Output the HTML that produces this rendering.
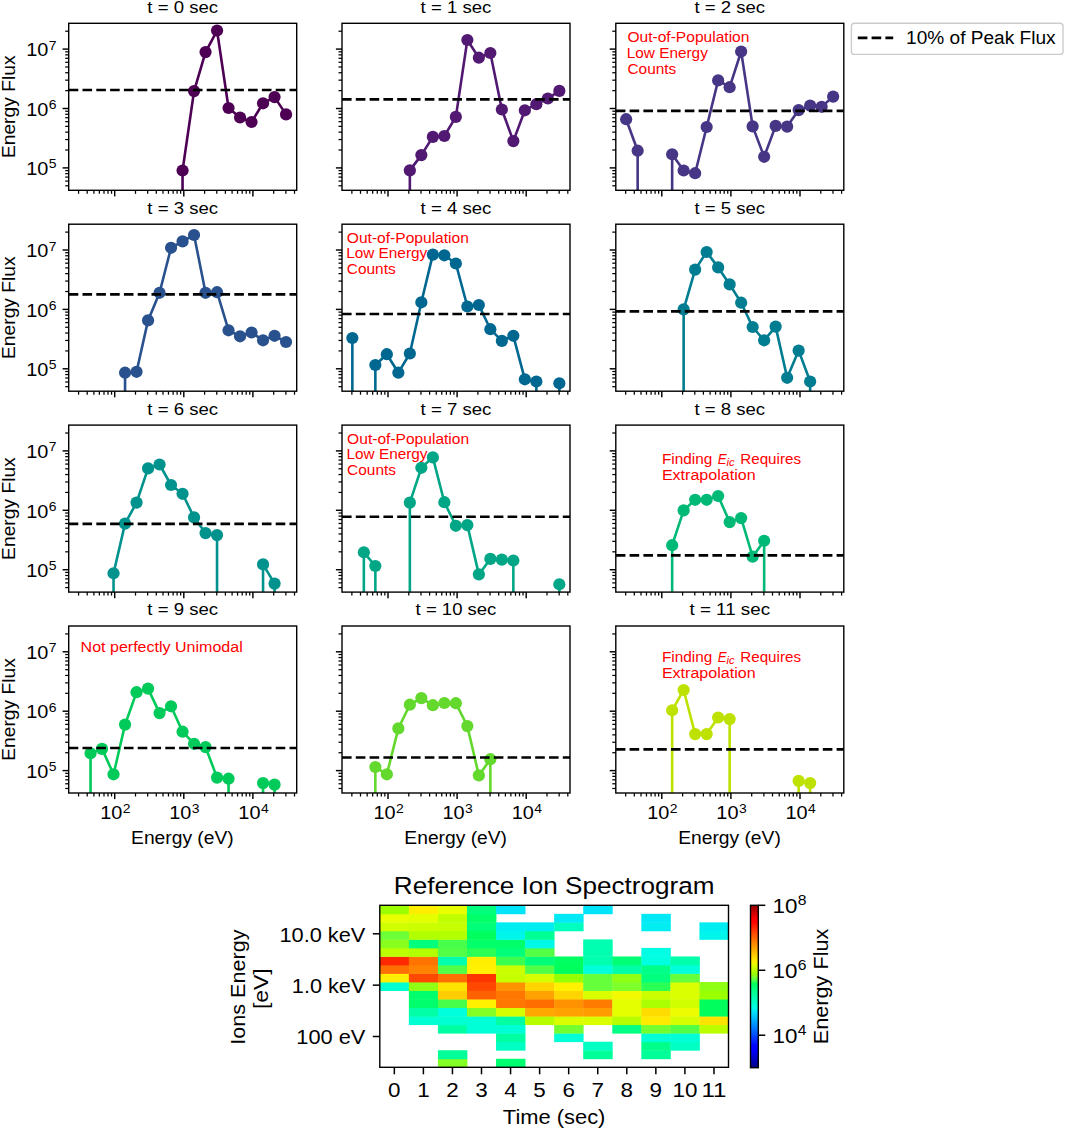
<!DOCTYPE html>
<html><head><meta charset="utf-8"><title>Energy Flux Spectra</title>
<style>html,body{margin:0;padding:0;background:#fff;}svg{display:block;}text{font-family:"Liberation Sans",sans-serif;}</style>
</head><body>
<svg width="1065" height="1128" viewBox="0 0 1065 1128" font-family='"Liberation Sans", sans-serif'>
<rect x="0" y="0" width="1065" height="1128" fill="#fff"/>
<clipPath id="clip0"><rect x="68.70" y="23.30" width="228.00" height="167.00"/></clipPath>
<g clip-path="url(#clip0)" stroke="#4e0055" stroke-width="2.6" fill="none" stroke-linejoin="round" stroke-linecap="butt"><polyline points="182.55,170.50 194.05,91.10 205.55,52.10 217.05,30.55 228.55,108.00 240.05,117.50 251.55,122.00 263.05,103.30 274.55,97.10 286.05,114.40"/><line x1="182.55" y1="170.50" x2="182.55" y2="195.30"/></g>
<g fill="#4e0055" clip-path="url(#clip0)"><circle cx="182.55" cy="170.50" r="6.1"/><circle cx="194.05" cy="91.10" r="6.1"/><circle cx="205.55" cy="52.10" r="6.1"/><circle cx="217.05" cy="30.55" r="6.1"/><circle cx="228.55" cy="108.00" r="6.1"/><circle cx="240.05" cy="117.50" r="6.1"/><circle cx="251.55" cy="122.00" r="6.1"/><circle cx="263.05" cy="103.30" r="6.1"/><circle cx="274.55" cy="97.10" r="6.1"/><circle cx="286.05" cy="114.40" r="6.1"/></g>
<line x1="68.70" y1="89.95" x2="296.70" y2="89.95" stroke="#000" stroke-width="2.6" stroke-dasharray="9.6 4.2" clip-path="url(#clip0)"/>
<rect x="68.70" y="23.30" width="228.00" height="167.00" fill="none" stroke="#000" stroke-width="1.4"/>
<g stroke="#000"><line x1="78.57" y1="190.30" x2="78.57" y2="193.80" stroke-width="1.25"/><line x1="87.20" y1="190.30" x2="87.20" y2="193.80" stroke-width="1.25"/><line x1="93.90" y1="190.30" x2="93.90" y2="193.80" stroke-width="1.25"/><line x1="99.37" y1="190.30" x2="99.37" y2="193.80" stroke-width="1.25"/><line x1="104.00" y1="190.30" x2="104.00" y2="193.80" stroke-width="1.25"/><line x1="108.00" y1="190.30" x2="108.00" y2="193.80" stroke-width="1.25"/><line x1="111.54" y1="190.30" x2="111.54" y2="193.80" stroke-width="1.25"/><line x1="114.70" y1="190.30" x2="114.70" y2="196.40" stroke-width="1.45"/><line x1="135.50" y1="190.30" x2="135.50" y2="193.80" stroke-width="1.25"/><line x1="147.67" y1="190.30" x2="147.67" y2="193.80" stroke-width="1.25"/><line x1="156.30" y1="190.30" x2="156.30" y2="193.80" stroke-width="1.25"/><line x1="163.00" y1="190.30" x2="163.00" y2="193.80" stroke-width="1.25"/><line x1="168.47" y1="190.30" x2="168.47" y2="193.80" stroke-width="1.25"/><line x1="173.10" y1="190.30" x2="173.10" y2="193.80" stroke-width="1.25"/><line x1="177.10" y1="190.30" x2="177.10" y2="193.80" stroke-width="1.25"/><line x1="180.64" y1="190.30" x2="180.64" y2="193.80" stroke-width="1.25"/><line x1="183.80" y1="190.30" x2="183.80" y2="196.40" stroke-width="1.45"/><line x1="204.60" y1="190.30" x2="204.60" y2="193.80" stroke-width="1.25"/><line x1="216.77" y1="190.30" x2="216.77" y2="193.80" stroke-width="1.25"/><line x1="225.40" y1="190.30" x2="225.40" y2="193.80" stroke-width="1.25"/><line x1="232.10" y1="190.30" x2="232.10" y2="193.80" stroke-width="1.25"/><line x1="237.57" y1="190.30" x2="237.57" y2="193.80" stroke-width="1.25"/><line x1="242.20" y1="190.30" x2="242.20" y2="193.80" stroke-width="1.25"/><line x1="246.20" y1="190.30" x2="246.20" y2="193.80" stroke-width="1.25"/><line x1="249.74" y1="190.30" x2="249.74" y2="193.80" stroke-width="1.25"/><line x1="252.90" y1="190.30" x2="252.90" y2="196.40" stroke-width="1.45"/><line x1="273.70" y1="190.30" x2="273.70" y2="193.80" stroke-width="1.25"/><line x1="285.87" y1="190.30" x2="285.87" y2="193.80" stroke-width="1.25"/><line x1="294.50" y1="190.30" x2="294.50" y2="193.80" stroke-width="1.25"/><line x1="68.70" y1="185.78" x2="65.20" y2="185.78" stroke-width="1.25"/><line x1="68.70" y1="181.08" x2="65.20" y2="181.08" stroke-width="1.25"/><line x1="68.70" y1="177.10" x2="65.20" y2="177.10" stroke-width="1.25"/><line x1="68.70" y1="173.66" x2="65.20" y2="173.66" stroke-width="1.25"/><line x1="68.70" y1="170.62" x2="65.20" y2="170.62" stroke-width="1.25"/><line x1="68.70" y1="167.90" x2="62.60" y2="167.90" stroke-width="1.45"/><line x1="68.70" y1="150.02" x2="65.20" y2="150.02" stroke-width="1.25"/><line x1="68.70" y1="139.56" x2="65.20" y2="139.56" stroke-width="1.25"/><line x1="68.70" y1="132.14" x2="65.20" y2="132.14" stroke-width="1.25"/><line x1="68.70" y1="126.38" x2="65.20" y2="126.38" stroke-width="1.25"/><line x1="68.70" y1="121.68" x2="65.20" y2="121.68" stroke-width="1.25"/><line x1="68.70" y1="117.70" x2="65.20" y2="117.70" stroke-width="1.25"/><line x1="68.70" y1="114.26" x2="65.20" y2="114.26" stroke-width="1.25"/><line x1="68.70" y1="111.22" x2="65.20" y2="111.22" stroke-width="1.25"/><line x1="68.70" y1="108.50" x2="62.60" y2="108.50" stroke-width="1.45"/><line x1="68.70" y1="90.62" x2="65.20" y2="90.62" stroke-width="1.25"/><line x1="68.70" y1="80.16" x2="65.20" y2="80.16" stroke-width="1.25"/><line x1="68.70" y1="72.74" x2="65.20" y2="72.74" stroke-width="1.25"/><line x1="68.70" y1="66.98" x2="65.20" y2="66.98" stroke-width="1.25"/><line x1="68.70" y1="62.28" x2="65.20" y2="62.28" stroke-width="1.25"/><line x1="68.70" y1="58.30" x2="65.20" y2="58.30" stroke-width="1.25"/><line x1="68.70" y1="54.86" x2="65.20" y2="54.86" stroke-width="1.25"/><line x1="68.70" y1="51.82" x2="65.20" y2="51.82" stroke-width="1.25"/><line x1="68.70" y1="49.10" x2="62.60" y2="49.10" stroke-width="1.45"/><line x1="68.70" y1="31.22" x2="65.20" y2="31.22" stroke-width="1.25"/></g>
<text x="147.33" y="12.70" font-size="16.41" textLength="70.74" lengthAdjust="spacingAndGlyphs" fill="#000">t = 0 sec</text>
<text x="26.21" y="175.10" font-size="18.18" textLength="22.14" lengthAdjust="spacingAndGlyphs" fill="#000">10</text>
<text x="48.75" y="168.49" font-size="12.73" textLength="7.75" lengthAdjust="spacingAndGlyphs" fill="#000">5</text>
<text x="26.21" y="115.70" font-size="18.18" textLength="22.14" lengthAdjust="spacingAndGlyphs" fill="#000">10</text>
<text x="48.75" y="109.09" font-size="12.73" textLength="7.75" lengthAdjust="spacingAndGlyphs" fill="#000">6</text>
<text x="26.21" y="56.30" font-size="18.18" textLength="22.14" lengthAdjust="spacingAndGlyphs" fill="#000">10</text>
<text x="48.75" y="49.69" font-size="12.73" textLength="7.75" lengthAdjust="spacingAndGlyphs" fill="#000">7</text>
<text transform="translate(15.40,106.80) rotate(-90)" x="-51.31" y="0" font-size="18.18" textLength="102.62" lengthAdjust="spacingAndGlyphs" fill="#000">Energy Flux</text>
<clipPath id="clip1"><rect x="342.00" y="23.30" width="228.00" height="167.00"/></clipPath>
<g clip-path="url(#clip1)" stroke="#521973" stroke-width="2.6" fill="none" stroke-linejoin="round" stroke-linecap="butt"><polyline points="409.85,170.40 421.35,155.10 432.85,136.90 444.35,136.00 455.85,116.90 467.35,40.00 478.85,57.70 490.35,53.00 501.85,109.50 513.35,141.10 524.85,110.30 536.35,104.20 547.85,98.50 559.35,90.90"/><line x1="409.85" y1="170.40" x2="409.85" y2="195.30"/></g>
<g fill="#521973" clip-path="url(#clip1)"><circle cx="409.85" cy="170.40" r="6.1"/><circle cx="421.35" cy="155.10" r="6.1"/><circle cx="432.85" cy="136.90" r="6.1"/><circle cx="444.35" cy="136.00" r="6.1"/><circle cx="455.85" cy="116.90" r="6.1"/><circle cx="467.35" cy="40.00" r="6.1"/><circle cx="478.85" cy="57.70" r="6.1"/><circle cx="490.35" cy="53.00" r="6.1"/><circle cx="501.85" cy="109.50" r="6.1"/><circle cx="513.35" cy="141.10" r="6.1"/><circle cx="524.85" cy="110.30" r="6.1"/><circle cx="536.35" cy="104.20" r="6.1"/><circle cx="547.85" cy="98.50" r="6.1"/><circle cx="559.35" cy="90.90" r="6.1"/></g>
<line x1="342.00" y1="99.40" x2="570.00" y2="99.40" stroke="#000" stroke-width="2.6" stroke-dasharray="9.6 4.2" clip-path="url(#clip1)"/>
<rect x="342.00" y="23.30" width="228.00" height="167.00" fill="none" stroke="#000" stroke-width="1.4"/>
<g stroke="#000"><line x1="351.87" y1="190.30" x2="351.87" y2="193.80" stroke-width="1.25"/><line x1="360.50" y1="190.30" x2="360.50" y2="193.80" stroke-width="1.25"/><line x1="367.20" y1="190.30" x2="367.20" y2="193.80" stroke-width="1.25"/><line x1="372.67" y1="190.30" x2="372.67" y2="193.80" stroke-width="1.25"/><line x1="377.30" y1="190.30" x2="377.30" y2="193.80" stroke-width="1.25"/><line x1="381.30" y1="190.30" x2="381.30" y2="193.80" stroke-width="1.25"/><line x1="384.84" y1="190.30" x2="384.84" y2="193.80" stroke-width="1.25"/><line x1="388.00" y1="190.30" x2="388.00" y2="196.40" stroke-width="1.45"/><line x1="408.80" y1="190.30" x2="408.80" y2="193.80" stroke-width="1.25"/><line x1="420.97" y1="190.30" x2="420.97" y2="193.80" stroke-width="1.25"/><line x1="429.60" y1="190.30" x2="429.60" y2="193.80" stroke-width="1.25"/><line x1="436.30" y1="190.30" x2="436.30" y2="193.80" stroke-width="1.25"/><line x1="441.77" y1="190.30" x2="441.77" y2="193.80" stroke-width="1.25"/><line x1="446.40" y1="190.30" x2="446.40" y2="193.80" stroke-width="1.25"/><line x1="450.40" y1="190.30" x2="450.40" y2="193.80" stroke-width="1.25"/><line x1="453.94" y1="190.30" x2="453.94" y2="193.80" stroke-width="1.25"/><line x1="457.10" y1="190.30" x2="457.10" y2="196.40" stroke-width="1.45"/><line x1="477.90" y1="190.30" x2="477.90" y2="193.80" stroke-width="1.25"/><line x1="490.07" y1="190.30" x2="490.07" y2="193.80" stroke-width="1.25"/><line x1="498.70" y1="190.30" x2="498.70" y2="193.80" stroke-width="1.25"/><line x1="505.40" y1="190.30" x2="505.40" y2="193.80" stroke-width="1.25"/><line x1="510.87" y1="190.30" x2="510.87" y2="193.80" stroke-width="1.25"/><line x1="515.50" y1="190.30" x2="515.50" y2="193.80" stroke-width="1.25"/><line x1="519.50" y1="190.30" x2="519.50" y2="193.80" stroke-width="1.25"/><line x1="523.04" y1="190.30" x2="523.04" y2="193.80" stroke-width="1.25"/><line x1="526.20" y1="190.30" x2="526.20" y2="196.40" stroke-width="1.45"/><line x1="547.00" y1="190.30" x2="547.00" y2="193.80" stroke-width="1.25"/><line x1="559.17" y1="190.30" x2="559.17" y2="193.80" stroke-width="1.25"/><line x1="567.80" y1="190.30" x2="567.80" y2="193.80" stroke-width="1.25"/><line x1="342.00" y1="185.78" x2="338.50" y2="185.78" stroke-width="1.25"/><line x1="342.00" y1="181.08" x2="338.50" y2="181.08" stroke-width="1.25"/><line x1="342.00" y1="177.10" x2="338.50" y2="177.10" stroke-width="1.25"/><line x1="342.00" y1="173.66" x2="338.50" y2="173.66" stroke-width="1.25"/><line x1="342.00" y1="170.62" x2="338.50" y2="170.62" stroke-width="1.25"/><line x1="342.00" y1="167.90" x2="335.90" y2="167.90" stroke-width="1.45"/><line x1="342.00" y1="150.02" x2="338.50" y2="150.02" stroke-width="1.25"/><line x1="342.00" y1="139.56" x2="338.50" y2="139.56" stroke-width="1.25"/><line x1="342.00" y1="132.14" x2="338.50" y2="132.14" stroke-width="1.25"/><line x1="342.00" y1="126.38" x2="338.50" y2="126.38" stroke-width="1.25"/><line x1="342.00" y1="121.68" x2="338.50" y2="121.68" stroke-width="1.25"/><line x1="342.00" y1="117.70" x2="338.50" y2="117.70" stroke-width="1.25"/><line x1="342.00" y1="114.26" x2="338.50" y2="114.26" stroke-width="1.25"/><line x1="342.00" y1="111.22" x2="338.50" y2="111.22" stroke-width="1.25"/><line x1="342.00" y1="108.50" x2="335.90" y2="108.50" stroke-width="1.45"/><line x1="342.00" y1="90.62" x2="338.50" y2="90.62" stroke-width="1.25"/><line x1="342.00" y1="80.16" x2="338.50" y2="80.16" stroke-width="1.25"/><line x1="342.00" y1="72.74" x2="338.50" y2="72.74" stroke-width="1.25"/><line x1="342.00" y1="66.98" x2="338.50" y2="66.98" stroke-width="1.25"/><line x1="342.00" y1="62.28" x2="338.50" y2="62.28" stroke-width="1.25"/><line x1="342.00" y1="58.30" x2="338.50" y2="58.30" stroke-width="1.25"/><line x1="342.00" y1="54.86" x2="338.50" y2="54.86" stroke-width="1.25"/><line x1="342.00" y1="51.82" x2="338.50" y2="51.82" stroke-width="1.25"/><line x1="342.00" y1="49.10" x2="335.90" y2="49.10" stroke-width="1.45"/><line x1="342.00" y1="31.22" x2="338.50" y2="31.22" stroke-width="1.25"/></g>
<text x="420.63" y="12.70" font-size="16.41" textLength="70.74" lengthAdjust="spacingAndGlyphs" fill="#000">t = 1 sec</text>
<clipPath id="clip2"><rect x="615.80" y="23.30" width="228.00" height="167.00"/></clipPath>
<g clip-path="url(#clip2)" stroke="#473686" stroke-width="2.6" fill="none" stroke-linejoin="round" stroke-linecap="butt"><polyline points="626.15,119.20 637.65,150.70"/><polyline points="672.15,154.30 683.65,170.50 695.15,173.20 706.65,127.00 718.15,80.40 729.65,87.20 741.15,51.50 752.65,126.40 764.15,156.80 775.65,125.90 787.15,126.60 798.65,110.10 810.15,105.60 821.65,106.80 833.15,96.60"/><line x1="637.65" y1="150.70" x2="637.65" y2="195.30"/><line x1="672.15" y1="154.30" x2="672.15" y2="195.30"/></g>
<g fill="#473686" clip-path="url(#clip2)"><circle cx="626.15" cy="119.20" r="6.1"/><circle cx="637.65" cy="150.70" r="6.1"/><circle cx="672.15" cy="154.30" r="6.1"/><circle cx="683.65" cy="170.50" r="6.1"/><circle cx="695.15" cy="173.20" r="6.1"/><circle cx="706.65" cy="127.00" r="6.1"/><circle cx="718.15" cy="80.40" r="6.1"/><circle cx="729.65" cy="87.20" r="6.1"/><circle cx="741.15" cy="51.50" r="6.1"/><circle cx="752.65" cy="126.40" r="6.1"/><circle cx="764.15" cy="156.80" r="6.1"/><circle cx="775.65" cy="125.90" r="6.1"/><circle cx="787.15" cy="126.60" r="6.1"/><circle cx="798.65" cy="110.10" r="6.1"/><circle cx="810.15" cy="105.60" r="6.1"/><circle cx="821.65" cy="106.80" r="6.1"/><circle cx="833.15" cy="96.60" r="6.1"/></g>
<line x1="615.80" y1="110.90" x2="843.80" y2="110.90" stroke="#000" stroke-width="2.6" stroke-dasharray="9.6 4.2" clip-path="url(#clip2)"/>
<rect x="615.80" y="23.30" width="228.00" height="167.00" fill="none" stroke="#000" stroke-width="1.4"/>
<g stroke="#000"><line x1="625.67" y1="190.30" x2="625.67" y2="193.80" stroke-width="1.25"/><line x1="634.30" y1="190.30" x2="634.30" y2="193.80" stroke-width="1.25"/><line x1="641.00" y1="190.30" x2="641.00" y2="193.80" stroke-width="1.25"/><line x1="646.47" y1="190.30" x2="646.47" y2="193.80" stroke-width="1.25"/><line x1="651.10" y1="190.30" x2="651.10" y2="193.80" stroke-width="1.25"/><line x1="655.10" y1="190.30" x2="655.10" y2="193.80" stroke-width="1.25"/><line x1="658.64" y1="190.30" x2="658.64" y2="193.80" stroke-width="1.25"/><line x1="661.80" y1="190.30" x2="661.80" y2="196.40" stroke-width="1.45"/><line x1="682.60" y1="190.30" x2="682.60" y2="193.80" stroke-width="1.25"/><line x1="694.77" y1="190.30" x2="694.77" y2="193.80" stroke-width="1.25"/><line x1="703.40" y1="190.30" x2="703.40" y2="193.80" stroke-width="1.25"/><line x1="710.10" y1="190.30" x2="710.10" y2="193.80" stroke-width="1.25"/><line x1="715.57" y1="190.30" x2="715.57" y2="193.80" stroke-width="1.25"/><line x1="720.20" y1="190.30" x2="720.20" y2="193.80" stroke-width="1.25"/><line x1="724.20" y1="190.30" x2="724.20" y2="193.80" stroke-width="1.25"/><line x1="727.74" y1="190.30" x2="727.74" y2="193.80" stroke-width="1.25"/><line x1="730.90" y1="190.30" x2="730.90" y2="196.40" stroke-width="1.45"/><line x1="751.70" y1="190.30" x2="751.70" y2="193.80" stroke-width="1.25"/><line x1="763.87" y1="190.30" x2="763.87" y2="193.80" stroke-width="1.25"/><line x1="772.50" y1="190.30" x2="772.50" y2="193.80" stroke-width="1.25"/><line x1="779.20" y1="190.30" x2="779.20" y2="193.80" stroke-width="1.25"/><line x1="784.67" y1="190.30" x2="784.67" y2="193.80" stroke-width="1.25"/><line x1="789.30" y1="190.30" x2="789.30" y2="193.80" stroke-width="1.25"/><line x1="793.30" y1="190.30" x2="793.30" y2="193.80" stroke-width="1.25"/><line x1="796.84" y1="190.30" x2="796.84" y2="193.80" stroke-width="1.25"/><line x1="800.00" y1="190.30" x2="800.00" y2="196.40" stroke-width="1.45"/><line x1="820.80" y1="190.30" x2="820.80" y2="193.80" stroke-width="1.25"/><line x1="832.97" y1="190.30" x2="832.97" y2="193.80" stroke-width="1.25"/><line x1="841.60" y1="190.30" x2="841.60" y2="193.80" stroke-width="1.25"/><line x1="615.80" y1="185.78" x2="612.30" y2="185.78" stroke-width="1.25"/><line x1="615.80" y1="181.08" x2="612.30" y2="181.08" stroke-width="1.25"/><line x1="615.80" y1="177.10" x2="612.30" y2="177.10" stroke-width="1.25"/><line x1="615.80" y1="173.66" x2="612.30" y2="173.66" stroke-width="1.25"/><line x1="615.80" y1="170.62" x2="612.30" y2="170.62" stroke-width="1.25"/><line x1="615.80" y1="167.90" x2="609.70" y2="167.90" stroke-width="1.45"/><line x1="615.80" y1="150.02" x2="612.30" y2="150.02" stroke-width="1.25"/><line x1="615.80" y1="139.56" x2="612.30" y2="139.56" stroke-width="1.25"/><line x1="615.80" y1="132.14" x2="612.30" y2="132.14" stroke-width="1.25"/><line x1="615.80" y1="126.38" x2="612.30" y2="126.38" stroke-width="1.25"/><line x1="615.80" y1="121.68" x2="612.30" y2="121.68" stroke-width="1.25"/><line x1="615.80" y1="117.70" x2="612.30" y2="117.70" stroke-width="1.25"/><line x1="615.80" y1="114.26" x2="612.30" y2="114.26" stroke-width="1.25"/><line x1="615.80" y1="111.22" x2="612.30" y2="111.22" stroke-width="1.25"/><line x1="615.80" y1="108.50" x2="609.70" y2="108.50" stroke-width="1.45"/><line x1="615.80" y1="90.62" x2="612.30" y2="90.62" stroke-width="1.25"/><line x1="615.80" y1="80.16" x2="612.30" y2="80.16" stroke-width="1.25"/><line x1="615.80" y1="72.74" x2="612.30" y2="72.74" stroke-width="1.25"/><line x1="615.80" y1="66.98" x2="612.30" y2="66.98" stroke-width="1.25"/><line x1="615.80" y1="62.28" x2="612.30" y2="62.28" stroke-width="1.25"/><line x1="615.80" y1="58.30" x2="612.30" y2="58.30" stroke-width="1.25"/><line x1="615.80" y1="54.86" x2="612.30" y2="54.86" stroke-width="1.25"/><line x1="615.80" y1="51.82" x2="612.30" y2="51.82" stroke-width="1.25"/><line x1="615.80" y1="49.10" x2="609.70" y2="49.10" stroke-width="1.45"/><line x1="615.80" y1="31.22" x2="612.30" y2="31.22" stroke-width="1.25"/></g>
<text x="694.43" y="12.70" font-size="16.41" textLength="70.74" lengthAdjust="spacingAndGlyphs" fill="#000">t = 2 sec</text>
<clipPath id="clip3"><rect x="68.70" y="224.20" width="228.00" height="167.00"/></clipPath>
<g clip-path="url(#clip3)" stroke="#29518e" stroke-width="2.6" fill="none" stroke-linejoin="round" stroke-linecap="butt"><polyline points="125.05,372.70 136.55,371.80 148.05,320.40 159.55,292.80 171.05,247.80 182.55,241.40 194.05,235.00 205.55,292.80 217.05,292.20 228.55,330.30 240.05,336.30 251.55,332.50 263.05,340.30 274.55,335.80 286.05,342.00"/><line x1="125.05" y1="372.70" x2="125.05" y2="396.20"/></g>
<g fill="#29518e" clip-path="url(#clip3)"><circle cx="125.05" cy="372.70" r="6.1"/><circle cx="136.55" cy="371.80" r="6.1"/><circle cx="148.05" cy="320.40" r="6.1"/><circle cx="159.55" cy="292.80" r="6.1"/><circle cx="171.05" cy="247.80" r="6.1"/><circle cx="182.55" cy="241.40" r="6.1"/><circle cx="194.05" cy="235.00" r="6.1"/><circle cx="205.55" cy="292.80" r="6.1"/><circle cx="217.05" cy="292.20" r="6.1"/><circle cx="228.55" cy="330.30" r="6.1"/><circle cx="240.05" cy="336.30" r="6.1"/><circle cx="251.55" cy="332.50" r="6.1"/><circle cx="263.05" cy="340.30" r="6.1"/><circle cx="274.55" cy="335.80" r="6.1"/><circle cx="286.05" cy="342.00" r="6.1"/></g>
<line x1="68.70" y1="294.40" x2="296.70" y2="294.40" stroke="#000" stroke-width="2.6" stroke-dasharray="9.6 4.2" clip-path="url(#clip3)"/>
<rect x="68.70" y="224.20" width="228.00" height="167.00" fill="none" stroke="#000" stroke-width="1.4"/>
<g stroke="#000"><line x1="78.57" y1="391.20" x2="78.57" y2="394.70" stroke-width="1.25"/><line x1="87.20" y1="391.20" x2="87.20" y2="394.70" stroke-width="1.25"/><line x1="93.90" y1="391.20" x2="93.90" y2="394.70" stroke-width="1.25"/><line x1="99.37" y1="391.20" x2="99.37" y2="394.70" stroke-width="1.25"/><line x1="104.00" y1="391.20" x2="104.00" y2="394.70" stroke-width="1.25"/><line x1="108.00" y1="391.20" x2="108.00" y2="394.70" stroke-width="1.25"/><line x1="111.54" y1="391.20" x2="111.54" y2="394.70" stroke-width="1.25"/><line x1="114.70" y1="391.20" x2="114.70" y2="397.30" stroke-width="1.45"/><line x1="135.50" y1="391.20" x2="135.50" y2="394.70" stroke-width="1.25"/><line x1="147.67" y1="391.20" x2="147.67" y2="394.70" stroke-width="1.25"/><line x1="156.30" y1="391.20" x2="156.30" y2="394.70" stroke-width="1.25"/><line x1="163.00" y1="391.20" x2="163.00" y2="394.70" stroke-width="1.25"/><line x1="168.47" y1="391.20" x2="168.47" y2="394.70" stroke-width="1.25"/><line x1="173.10" y1="391.20" x2="173.10" y2="394.70" stroke-width="1.25"/><line x1="177.10" y1="391.20" x2="177.10" y2="394.70" stroke-width="1.25"/><line x1="180.64" y1="391.20" x2="180.64" y2="394.70" stroke-width="1.25"/><line x1="183.80" y1="391.20" x2="183.80" y2="397.30" stroke-width="1.45"/><line x1="204.60" y1="391.20" x2="204.60" y2="394.70" stroke-width="1.25"/><line x1="216.77" y1="391.20" x2="216.77" y2="394.70" stroke-width="1.25"/><line x1="225.40" y1="391.20" x2="225.40" y2="394.70" stroke-width="1.25"/><line x1="232.10" y1="391.20" x2="232.10" y2="394.70" stroke-width="1.25"/><line x1="237.57" y1="391.20" x2="237.57" y2="394.70" stroke-width="1.25"/><line x1="242.20" y1="391.20" x2="242.20" y2="394.70" stroke-width="1.25"/><line x1="246.20" y1="391.20" x2="246.20" y2="394.70" stroke-width="1.25"/><line x1="249.74" y1="391.20" x2="249.74" y2="394.70" stroke-width="1.25"/><line x1="252.90" y1="391.20" x2="252.90" y2="397.30" stroke-width="1.45"/><line x1="273.70" y1="391.20" x2="273.70" y2="394.70" stroke-width="1.25"/><line x1="285.87" y1="391.20" x2="285.87" y2="394.70" stroke-width="1.25"/><line x1="294.50" y1="391.20" x2="294.50" y2="394.70" stroke-width="1.25"/><line x1="68.70" y1="386.68" x2="65.20" y2="386.68" stroke-width="1.25"/><line x1="68.70" y1="381.98" x2="65.20" y2="381.98" stroke-width="1.25"/><line x1="68.70" y1="378.00" x2="65.20" y2="378.00" stroke-width="1.25"/><line x1="68.70" y1="374.56" x2="65.20" y2="374.56" stroke-width="1.25"/><line x1="68.70" y1="371.52" x2="65.20" y2="371.52" stroke-width="1.25"/><line x1="68.70" y1="368.80" x2="62.60" y2="368.80" stroke-width="1.45"/><line x1="68.70" y1="350.92" x2="65.20" y2="350.92" stroke-width="1.25"/><line x1="68.70" y1="340.46" x2="65.20" y2="340.46" stroke-width="1.25"/><line x1="68.70" y1="333.04" x2="65.20" y2="333.04" stroke-width="1.25"/><line x1="68.70" y1="327.28" x2="65.20" y2="327.28" stroke-width="1.25"/><line x1="68.70" y1="322.58" x2="65.20" y2="322.58" stroke-width="1.25"/><line x1="68.70" y1="318.60" x2="65.20" y2="318.60" stroke-width="1.25"/><line x1="68.70" y1="315.16" x2="65.20" y2="315.16" stroke-width="1.25"/><line x1="68.70" y1="312.12" x2="65.20" y2="312.12" stroke-width="1.25"/><line x1="68.70" y1="309.40" x2="62.60" y2="309.40" stroke-width="1.45"/><line x1="68.70" y1="291.52" x2="65.20" y2="291.52" stroke-width="1.25"/><line x1="68.70" y1="281.06" x2="65.20" y2="281.06" stroke-width="1.25"/><line x1="68.70" y1="273.64" x2="65.20" y2="273.64" stroke-width="1.25"/><line x1="68.70" y1="267.88" x2="65.20" y2="267.88" stroke-width="1.25"/><line x1="68.70" y1="263.18" x2="65.20" y2="263.18" stroke-width="1.25"/><line x1="68.70" y1="259.20" x2="65.20" y2="259.20" stroke-width="1.25"/><line x1="68.70" y1="255.76" x2="65.20" y2="255.76" stroke-width="1.25"/><line x1="68.70" y1="252.72" x2="65.20" y2="252.72" stroke-width="1.25"/><line x1="68.70" y1="250.00" x2="62.60" y2="250.00" stroke-width="1.45"/><line x1="68.70" y1="232.12" x2="65.20" y2="232.12" stroke-width="1.25"/></g>
<text x="147.33" y="213.60" font-size="16.41" textLength="70.74" lengthAdjust="spacingAndGlyphs" fill="#000">t = 3 sec</text>
<text x="26.21" y="376.00" font-size="18.18" textLength="22.14" lengthAdjust="spacingAndGlyphs" fill="#000">10</text>
<text x="48.75" y="369.39" font-size="12.73" textLength="7.75" lengthAdjust="spacingAndGlyphs" fill="#000">5</text>
<text x="26.21" y="316.60" font-size="18.18" textLength="22.14" lengthAdjust="spacingAndGlyphs" fill="#000">10</text>
<text x="48.75" y="309.99" font-size="12.73" textLength="7.75" lengthAdjust="spacingAndGlyphs" fill="#000">6</text>
<text x="26.21" y="257.20" font-size="18.18" textLength="22.14" lengthAdjust="spacingAndGlyphs" fill="#000">10</text>
<text x="48.75" y="250.59" font-size="12.73" textLength="7.75" lengthAdjust="spacingAndGlyphs" fill="#000">7</text>
<text transform="translate(15.40,307.70) rotate(-90)" x="-51.31" y="0" font-size="18.18" textLength="102.62" lengthAdjust="spacingAndGlyphs" fill="#000">Energy Flux</text>
<clipPath id="clip4"><rect x="342.00" y="224.20" width="228.00" height="167.00"/></clipPath>
<g clip-path="url(#clip4)" stroke="#006890" stroke-width="2.6" fill="none" stroke-linejoin="round" stroke-linecap="butt"><polyline points="375.35,365.00 386.85,354.20 398.35,372.70 409.85,353.50 421.35,302.30 432.85,254.60 444.35,255.30 455.85,263.50 467.35,306.50 478.85,305.00 490.35,329.20 501.85,340.90 513.35,335.80 524.85,379.30 536.35,381.50"/><line x1="352.35" y1="338.00" x2="352.35" y2="396.20"/><line x1="375.35" y1="365.00" x2="375.35" y2="396.20"/><line x1="536.35" y1="381.50" x2="536.35" y2="396.20"/><line x1="559.35" y1="383.30" x2="559.35" y2="396.20"/></g>
<g fill="#006890" clip-path="url(#clip4)"><circle cx="352.35" cy="338.00" r="6.1"/><circle cx="375.35" cy="365.00" r="6.1"/><circle cx="386.85" cy="354.20" r="6.1"/><circle cx="398.35" cy="372.70" r="6.1"/><circle cx="409.85" cy="353.50" r="6.1"/><circle cx="421.35" cy="302.30" r="6.1"/><circle cx="432.85" cy="254.60" r="6.1"/><circle cx="444.35" cy="255.30" r="6.1"/><circle cx="455.85" cy="263.50" r="6.1"/><circle cx="467.35" cy="306.50" r="6.1"/><circle cx="478.85" cy="305.00" r="6.1"/><circle cx="490.35" cy="329.20" r="6.1"/><circle cx="501.85" cy="340.90" r="6.1"/><circle cx="513.35" cy="335.80" r="6.1"/><circle cx="524.85" cy="379.30" r="6.1"/><circle cx="536.35" cy="381.50" r="6.1"/><circle cx="559.35" cy="383.30" r="6.1"/></g>
<line x1="342.00" y1="314.00" x2="570.00" y2="314.00" stroke="#000" stroke-width="2.6" stroke-dasharray="9.6 4.2" clip-path="url(#clip4)"/>
<rect x="342.00" y="224.20" width="228.00" height="167.00" fill="none" stroke="#000" stroke-width="1.4"/>
<g stroke="#000"><line x1="351.87" y1="391.20" x2="351.87" y2="394.70" stroke-width="1.25"/><line x1="360.50" y1="391.20" x2="360.50" y2="394.70" stroke-width="1.25"/><line x1="367.20" y1="391.20" x2="367.20" y2="394.70" stroke-width="1.25"/><line x1="372.67" y1="391.20" x2="372.67" y2="394.70" stroke-width="1.25"/><line x1="377.30" y1="391.20" x2="377.30" y2="394.70" stroke-width="1.25"/><line x1="381.30" y1="391.20" x2="381.30" y2="394.70" stroke-width="1.25"/><line x1="384.84" y1="391.20" x2="384.84" y2="394.70" stroke-width="1.25"/><line x1="388.00" y1="391.20" x2="388.00" y2="397.30" stroke-width="1.45"/><line x1="408.80" y1="391.20" x2="408.80" y2="394.70" stroke-width="1.25"/><line x1="420.97" y1="391.20" x2="420.97" y2="394.70" stroke-width="1.25"/><line x1="429.60" y1="391.20" x2="429.60" y2="394.70" stroke-width="1.25"/><line x1="436.30" y1="391.20" x2="436.30" y2="394.70" stroke-width="1.25"/><line x1="441.77" y1="391.20" x2="441.77" y2="394.70" stroke-width="1.25"/><line x1="446.40" y1="391.20" x2="446.40" y2="394.70" stroke-width="1.25"/><line x1="450.40" y1="391.20" x2="450.40" y2="394.70" stroke-width="1.25"/><line x1="453.94" y1="391.20" x2="453.94" y2="394.70" stroke-width="1.25"/><line x1="457.10" y1="391.20" x2="457.10" y2="397.30" stroke-width="1.45"/><line x1="477.90" y1="391.20" x2="477.90" y2="394.70" stroke-width="1.25"/><line x1="490.07" y1="391.20" x2="490.07" y2="394.70" stroke-width="1.25"/><line x1="498.70" y1="391.20" x2="498.70" y2="394.70" stroke-width="1.25"/><line x1="505.40" y1="391.20" x2="505.40" y2="394.70" stroke-width="1.25"/><line x1="510.87" y1="391.20" x2="510.87" y2="394.70" stroke-width="1.25"/><line x1="515.50" y1="391.20" x2="515.50" y2="394.70" stroke-width="1.25"/><line x1="519.50" y1="391.20" x2="519.50" y2="394.70" stroke-width="1.25"/><line x1="523.04" y1="391.20" x2="523.04" y2="394.70" stroke-width="1.25"/><line x1="526.20" y1="391.20" x2="526.20" y2="397.30" stroke-width="1.45"/><line x1="547.00" y1="391.20" x2="547.00" y2="394.70" stroke-width="1.25"/><line x1="559.17" y1="391.20" x2="559.17" y2="394.70" stroke-width="1.25"/><line x1="567.80" y1="391.20" x2="567.80" y2="394.70" stroke-width="1.25"/><line x1="342.00" y1="386.68" x2="338.50" y2="386.68" stroke-width="1.25"/><line x1="342.00" y1="381.98" x2="338.50" y2="381.98" stroke-width="1.25"/><line x1="342.00" y1="378.00" x2="338.50" y2="378.00" stroke-width="1.25"/><line x1="342.00" y1="374.56" x2="338.50" y2="374.56" stroke-width="1.25"/><line x1="342.00" y1="371.52" x2="338.50" y2="371.52" stroke-width="1.25"/><line x1="342.00" y1="368.80" x2="335.90" y2="368.80" stroke-width="1.45"/><line x1="342.00" y1="350.92" x2="338.50" y2="350.92" stroke-width="1.25"/><line x1="342.00" y1="340.46" x2="338.50" y2="340.46" stroke-width="1.25"/><line x1="342.00" y1="333.04" x2="338.50" y2="333.04" stroke-width="1.25"/><line x1="342.00" y1="327.28" x2="338.50" y2="327.28" stroke-width="1.25"/><line x1="342.00" y1="322.58" x2="338.50" y2="322.58" stroke-width="1.25"/><line x1="342.00" y1="318.60" x2="338.50" y2="318.60" stroke-width="1.25"/><line x1="342.00" y1="315.16" x2="338.50" y2="315.16" stroke-width="1.25"/><line x1="342.00" y1="312.12" x2="338.50" y2="312.12" stroke-width="1.25"/><line x1="342.00" y1="309.40" x2="335.90" y2="309.40" stroke-width="1.45"/><line x1="342.00" y1="291.52" x2="338.50" y2="291.52" stroke-width="1.25"/><line x1="342.00" y1="281.06" x2="338.50" y2="281.06" stroke-width="1.25"/><line x1="342.00" y1="273.64" x2="338.50" y2="273.64" stroke-width="1.25"/><line x1="342.00" y1="267.88" x2="338.50" y2="267.88" stroke-width="1.25"/><line x1="342.00" y1="263.18" x2="338.50" y2="263.18" stroke-width="1.25"/><line x1="342.00" y1="259.20" x2="338.50" y2="259.20" stroke-width="1.25"/><line x1="342.00" y1="255.76" x2="338.50" y2="255.76" stroke-width="1.25"/><line x1="342.00" y1="252.72" x2="338.50" y2="252.72" stroke-width="1.25"/><line x1="342.00" y1="250.00" x2="335.90" y2="250.00" stroke-width="1.45"/><line x1="342.00" y1="232.12" x2="338.50" y2="232.12" stroke-width="1.25"/></g>
<text x="420.63" y="213.60" font-size="16.41" textLength="70.74" lengthAdjust="spacingAndGlyphs" fill="#000">t = 4 sec</text>
<clipPath id="clip5"><rect x="615.80" y="224.20" width="228.00" height="167.00"/></clipPath>
<g clip-path="url(#clip5)" stroke="#007d90" stroke-width="2.6" fill="none" stroke-linejoin="round" stroke-linecap="butt"><polyline points="683.65,309.40 695.15,269.60 706.65,252.00 718.15,267.40 729.65,284.40 741.15,302.70 752.65,327.00 764.15,340.30 775.65,326.60 787.15,377.80 798.65,350.60 810.15,381.50"/><line x1="683.65" y1="309.40" x2="683.65" y2="396.20"/><line x1="810.15" y1="381.50" x2="810.15" y2="396.20"/></g>
<g fill="#007d90" clip-path="url(#clip5)"><circle cx="683.65" cy="309.40" r="6.1"/><circle cx="695.15" cy="269.60" r="6.1"/><circle cx="706.65" cy="252.00" r="6.1"/><circle cx="718.15" cy="267.40" r="6.1"/><circle cx="729.65" cy="284.40" r="6.1"/><circle cx="741.15" cy="302.70" r="6.1"/><circle cx="752.65" cy="327.00" r="6.1"/><circle cx="764.15" cy="340.30" r="6.1"/><circle cx="775.65" cy="326.60" r="6.1"/><circle cx="787.15" cy="377.80" r="6.1"/><circle cx="798.65" cy="350.60" r="6.1"/><circle cx="810.15" cy="381.50" r="6.1"/></g>
<line x1="615.80" y1="311.40" x2="843.80" y2="311.40" stroke="#000" stroke-width="2.6" stroke-dasharray="9.6 4.2" clip-path="url(#clip5)"/>
<rect x="615.80" y="224.20" width="228.00" height="167.00" fill="none" stroke="#000" stroke-width="1.4"/>
<g stroke="#000"><line x1="625.67" y1="391.20" x2="625.67" y2="394.70" stroke-width="1.25"/><line x1="634.30" y1="391.20" x2="634.30" y2="394.70" stroke-width="1.25"/><line x1="641.00" y1="391.20" x2="641.00" y2="394.70" stroke-width="1.25"/><line x1="646.47" y1="391.20" x2="646.47" y2="394.70" stroke-width="1.25"/><line x1="651.10" y1="391.20" x2="651.10" y2="394.70" stroke-width="1.25"/><line x1="655.10" y1="391.20" x2="655.10" y2="394.70" stroke-width="1.25"/><line x1="658.64" y1="391.20" x2="658.64" y2="394.70" stroke-width="1.25"/><line x1="661.80" y1="391.20" x2="661.80" y2="397.30" stroke-width="1.45"/><line x1="682.60" y1="391.20" x2="682.60" y2="394.70" stroke-width="1.25"/><line x1="694.77" y1="391.20" x2="694.77" y2="394.70" stroke-width="1.25"/><line x1="703.40" y1="391.20" x2="703.40" y2="394.70" stroke-width="1.25"/><line x1="710.10" y1="391.20" x2="710.10" y2="394.70" stroke-width="1.25"/><line x1="715.57" y1="391.20" x2="715.57" y2="394.70" stroke-width="1.25"/><line x1="720.20" y1="391.20" x2="720.20" y2="394.70" stroke-width="1.25"/><line x1="724.20" y1="391.20" x2="724.20" y2="394.70" stroke-width="1.25"/><line x1="727.74" y1="391.20" x2="727.74" y2="394.70" stroke-width="1.25"/><line x1="730.90" y1="391.20" x2="730.90" y2="397.30" stroke-width="1.45"/><line x1="751.70" y1="391.20" x2="751.70" y2="394.70" stroke-width="1.25"/><line x1="763.87" y1="391.20" x2="763.87" y2="394.70" stroke-width="1.25"/><line x1="772.50" y1="391.20" x2="772.50" y2="394.70" stroke-width="1.25"/><line x1="779.20" y1="391.20" x2="779.20" y2="394.70" stroke-width="1.25"/><line x1="784.67" y1="391.20" x2="784.67" y2="394.70" stroke-width="1.25"/><line x1="789.30" y1="391.20" x2="789.30" y2="394.70" stroke-width="1.25"/><line x1="793.30" y1="391.20" x2="793.30" y2="394.70" stroke-width="1.25"/><line x1="796.84" y1="391.20" x2="796.84" y2="394.70" stroke-width="1.25"/><line x1="800.00" y1="391.20" x2="800.00" y2="397.30" stroke-width="1.45"/><line x1="820.80" y1="391.20" x2="820.80" y2="394.70" stroke-width="1.25"/><line x1="832.97" y1="391.20" x2="832.97" y2="394.70" stroke-width="1.25"/><line x1="841.60" y1="391.20" x2="841.60" y2="394.70" stroke-width="1.25"/><line x1="615.80" y1="386.68" x2="612.30" y2="386.68" stroke-width="1.25"/><line x1="615.80" y1="381.98" x2="612.30" y2="381.98" stroke-width="1.25"/><line x1="615.80" y1="378.00" x2="612.30" y2="378.00" stroke-width="1.25"/><line x1="615.80" y1="374.56" x2="612.30" y2="374.56" stroke-width="1.25"/><line x1="615.80" y1="371.52" x2="612.30" y2="371.52" stroke-width="1.25"/><line x1="615.80" y1="368.80" x2="609.70" y2="368.80" stroke-width="1.45"/><line x1="615.80" y1="350.92" x2="612.30" y2="350.92" stroke-width="1.25"/><line x1="615.80" y1="340.46" x2="612.30" y2="340.46" stroke-width="1.25"/><line x1="615.80" y1="333.04" x2="612.30" y2="333.04" stroke-width="1.25"/><line x1="615.80" y1="327.28" x2="612.30" y2="327.28" stroke-width="1.25"/><line x1="615.80" y1="322.58" x2="612.30" y2="322.58" stroke-width="1.25"/><line x1="615.80" y1="318.60" x2="612.30" y2="318.60" stroke-width="1.25"/><line x1="615.80" y1="315.16" x2="612.30" y2="315.16" stroke-width="1.25"/><line x1="615.80" y1="312.12" x2="612.30" y2="312.12" stroke-width="1.25"/><line x1="615.80" y1="309.40" x2="609.70" y2="309.40" stroke-width="1.45"/><line x1="615.80" y1="291.52" x2="612.30" y2="291.52" stroke-width="1.25"/><line x1="615.80" y1="281.06" x2="612.30" y2="281.06" stroke-width="1.25"/><line x1="615.80" y1="273.64" x2="612.30" y2="273.64" stroke-width="1.25"/><line x1="615.80" y1="267.88" x2="612.30" y2="267.88" stroke-width="1.25"/><line x1="615.80" y1="263.18" x2="612.30" y2="263.18" stroke-width="1.25"/><line x1="615.80" y1="259.20" x2="612.30" y2="259.20" stroke-width="1.25"/><line x1="615.80" y1="255.76" x2="612.30" y2="255.76" stroke-width="1.25"/><line x1="615.80" y1="252.72" x2="612.30" y2="252.72" stroke-width="1.25"/><line x1="615.80" y1="250.00" x2="609.70" y2="250.00" stroke-width="1.45"/><line x1="615.80" y1="232.12" x2="612.30" y2="232.12" stroke-width="1.25"/></g>
<text x="694.43" y="213.60" font-size="16.41" textLength="70.74" lengthAdjust="spacingAndGlyphs" fill="#000">t = 5 sec</text>
<clipPath id="clip6"><rect x="68.70" y="425.10" width="228.00" height="167.00"/></clipPath>
<g clip-path="url(#clip6)" stroke="#00928d" stroke-width="2.6" fill="none" stroke-linejoin="round" stroke-linecap="butt"><polyline points="113.55,573.30 125.05,523.60 136.55,502.60 148.05,468.40 159.55,464.50 171.05,485.00 182.55,493.80 194.05,517.40 205.55,533.10 217.05,535.10"/><polyline points="263.05,564.40 274.55,583.60"/><line x1="113.55" y1="573.30" x2="113.55" y2="597.10"/><line x1="217.05" y1="535.10" x2="217.05" y2="597.10"/><line x1="263.05" y1="564.40" x2="263.05" y2="597.10"/><line x1="274.55" y1="583.60" x2="274.55" y2="597.10"/></g>
<g fill="#00928d" clip-path="url(#clip6)"><circle cx="113.55" cy="573.30" r="6.1"/><circle cx="125.05" cy="523.60" r="6.1"/><circle cx="136.55" cy="502.60" r="6.1"/><circle cx="148.05" cy="468.40" r="6.1"/><circle cx="159.55" cy="464.50" r="6.1"/><circle cx="171.05" cy="485.00" r="6.1"/><circle cx="182.55" cy="493.80" r="6.1"/><circle cx="194.05" cy="517.40" r="6.1"/><circle cx="205.55" cy="533.10" r="6.1"/><circle cx="217.05" cy="535.10" r="6.1"/><circle cx="263.05" cy="564.40" r="6.1"/><circle cx="274.55" cy="583.60" r="6.1"/></g>
<line x1="68.70" y1="523.90" x2="296.70" y2="523.90" stroke="#000" stroke-width="2.6" stroke-dasharray="9.6 4.2" clip-path="url(#clip6)"/>
<rect x="68.70" y="425.10" width="228.00" height="167.00" fill="none" stroke="#000" stroke-width="1.4"/>
<g stroke="#000"><line x1="78.57" y1="592.10" x2="78.57" y2="595.60" stroke-width="1.25"/><line x1="87.20" y1="592.10" x2="87.20" y2="595.60" stroke-width="1.25"/><line x1="93.90" y1="592.10" x2="93.90" y2="595.60" stroke-width="1.25"/><line x1="99.37" y1="592.10" x2="99.37" y2="595.60" stroke-width="1.25"/><line x1="104.00" y1="592.10" x2="104.00" y2="595.60" stroke-width="1.25"/><line x1="108.00" y1="592.10" x2="108.00" y2="595.60" stroke-width="1.25"/><line x1="111.54" y1="592.10" x2="111.54" y2="595.60" stroke-width="1.25"/><line x1="114.70" y1="592.10" x2="114.70" y2="598.20" stroke-width="1.45"/><line x1="135.50" y1="592.10" x2="135.50" y2="595.60" stroke-width="1.25"/><line x1="147.67" y1="592.10" x2="147.67" y2="595.60" stroke-width="1.25"/><line x1="156.30" y1="592.10" x2="156.30" y2="595.60" stroke-width="1.25"/><line x1="163.00" y1="592.10" x2="163.00" y2="595.60" stroke-width="1.25"/><line x1="168.47" y1="592.10" x2="168.47" y2="595.60" stroke-width="1.25"/><line x1="173.10" y1="592.10" x2="173.10" y2="595.60" stroke-width="1.25"/><line x1="177.10" y1="592.10" x2="177.10" y2="595.60" stroke-width="1.25"/><line x1="180.64" y1="592.10" x2="180.64" y2="595.60" stroke-width="1.25"/><line x1="183.80" y1="592.10" x2="183.80" y2="598.20" stroke-width="1.45"/><line x1="204.60" y1="592.10" x2="204.60" y2="595.60" stroke-width="1.25"/><line x1="216.77" y1="592.10" x2="216.77" y2="595.60" stroke-width="1.25"/><line x1="225.40" y1="592.10" x2="225.40" y2="595.60" stroke-width="1.25"/><line x1="232.10" y1="592.10" x2="232.10" y2="595.60" stroke-width="1.25"/><line x1="237.57" y1="592.10" x2="237.57" y2="595.60" stroke-width="1.25"/><line x1="242.20" y1="592.10" x2="242.20" y2="595.60" stroke-width="1.25"/><line x1="246.20" y1="592.10" x2="246.20" y2="595.60" stroke-width="1.25"/><line x1="249.74" y1="592.10" x2="249.74" y2="595.60" stroke-width="1.25"/><line x1="252.90" y1="592.10" x2="252.90" y2="598.20" stroke-width="1.45"/><line x1="273.70" y1="592.10" x2="273.70" y2="595.60" stroke-width="1.25"/><line x1="285.87" y1="592.10" x2="285.87" y2="595.60" stroke-width="1.25"/><line x1="294.50" y1="592.10" x2="294.50" y2="595.60" stroke-width="1.25"/><line x1="68.70" y1="587.58" x2="65.20" y2="587.58" stroke-width="1.25"/><line x1="68.70" y1="582.88" x2="65.20" y2="582.88" stroke-width="1.25"/><line x1="68.70" y1="578.90" x2="65.20" y2="578.90" stroke-width="1.25"/><line x1="68.70" y1="575.46" x2="65.20" y2="575.46" stroke-width="1.25"/><line x1="68.70" y1="572.42" x2="65.20" y2="572.42" stroke-width="1.25"/><line x1="68.70" y1="569.70" x2="62.60" y2="569.70" stroke-width="1.45"/><line x1="68.70" y1="551.82" x2="65.20" y2="551.82" stroke-width="1.25"/><line x1="68.70" y1="541.36" x2="65.20" y2="541.36" stroke-width="1.25"/><line x1="68.70" y1="533.94" x2="65.20" y2="533.94" stroke-width="1.25"/><line x1="68.70" y1="528.18" x2="65.20" y2="528.18" stroke-width="1.25"/><line x1="68.70" y1="523.48" x2="65.20" y2="523.48" stroke-width="1.25"/><line x1="68.70" y1="519.50" x2="65.20" y2="519.50" stroke-width="1.25"/><line x1="68.70" y1="516.06" x2="65.20" y2="516.06" stroke-width="1.25"/><line x1="68.70" y1="513.02" x2="65.20" y2="513.02" stroke-width="1.25"/><line x1="68.70" y1="510.30" x2="62.60" y2="510.30" stroke-width="1.45"/><line x1="68.70" y1="492.42" x2="65.20" y2="492.42" stroke-width="1.25"/><line x1="68.70" y1="481.96" x2="65.20" y2="481.96" stroke-width="1.25"/><line x1="68.70" y1="474.54" x2="65.20" y2="474.54" stroke-width="1.25"/><line x1="68.70" y1="468.78" x2="65.20" y2="468.78" stroke-width="1.25"/><line x1="68.70" y1="464.08" x2="65.20" y2="464.08" stroke-width="1.25"/><line x1="68.70" y1="460.10" x2="65.20" y2="460.10" stroke-width="1.25"/><line x1="68.70" y1="456.66" x2="65.20" y2="456.66" stroke-width="1.25"/><line x1="68.70" y1="453.62" x2="65.20" y2="453.62" stroke-width="1.25"/><line x1="68.70" y1="450.90" x2="62.60" y2="450.90" stroke-width="1.45"/><line x1="68.70" y1="433.02" x2="65.20" y2="433.02" stroke-width="1.25"/></g>
<text x="147.33" y="414.50" font-size="16.41" textLength="70.74" lengthAdjust="spacingAndGlyphs" fill="#000">t = 6 sec</text>
<text x="26.21" y="576.90" font-size="18.18" textLength="22.14" lengthAdjust="spacingAndGlyphs" fill="#000">10</text>
<text x="48.75" y="570.29" font-size="12.73" textLength="7.75" lengthAdjust="spacingAndGlyphs" fill="#000">5</text>
<text x="26.21" y="517.50" font-size="18.18" textLength="22.14" lengthAdjust="spacingAndGlyphs" fill="#000">10</text>
<text x="48.75" y="510.89" font-size="12.73" textLength="7.75" lengthAdjust="spacingAndGlyphs" fill="#000">6</text>
<text x="26.21" y="458.10" font-size="18.18" textLength="22.14" lengthAdjust="spacingAndGlyphs" fill="#000">10</text>
<text x="48.75" y="451.49" font-size="12.73" textLength="7.75" lengthAdjust="spacingAndGlyphs" fill="#000">7</text>
<text transform="translate(15.40,508.60) rotate(-90)" x="-51.31" y="0" font-size="18.18" textLength="102.62" lengthAdjust="spacingAndGlyphs" fill="#000">Energy Flux</text>
<clipPath id="clip7"><rect x="342.00" y="425.10" width="228.00" height="167.00"/></clipPath>
<g clip-path="url(#clip7)" stroke="#00a686" stroke-width="2.6" fill="none" stroke-linejoin="round" stroke-linecap="butt"><polyline points="363.85,552.30 375.35,566.00"/><polyline points="409.85,502.60 421.35,467.80 432.85,457.40 444.35,502.20 455.85,525.80 467.35,525.10 478.85,574.40 490.35,558.90 501.85,559.60 513.35,560.50"/><line x1="363.85" y1="552.30" x2="363.85" y2="597.10"/><line x1="375.35" y1="566.00" x2="375.35" y2="597.10"/><line x1="409.85" y1="502.60" x2="409.85" y2="597.10"/><line x1="513.35" y1="560.50" x2="513.35" y2="597.10"/><line x1="559.35" y1="584.30" x2="559.35" y2="597.10"/></g>
<g fill="#00a686" clip-path="url(#clip7)"><circle cx="363.85" cy="552.30" r="6.1"/><circle cx="375.35" cy="566.00" r="6.1"/><circle cx="409.85" cy="502.60" r="6.1"/><circle cx="421.35" cy="467.80" r="6.1"/><circle cx="432.85" cy="457.40" r="6.1"/><circle cx="444.35" cy="502.20" r="6.1"/><circle cx="455.85" cy="525.80" r="6.1"/><circle cx="467.35" cy="525.10" r="6.1"/><circle cx="478.85" cy="574.40" r="6.1"/><circle cx="490.35" cy="558.90" r="6.1"/><circle cx="501.85" cy="559.60" r="6.1"/><circle cx="513.35" cy="560.50" r="6.1"/><circle cx="559.35" cy="584.30" r="6.1"/></g>
<line x1="342.00" y1="516.80" x2="570.00" y2="516.80" stroke="#000" stroke-width="2.6" stroke-dasharray="9.6 4.2" clip-path="url(#clip7)"/>
<rect x="342.00" y="425.10" width="228.00" height="167.00" fill="none" stroke="#000" stroke-width="1.4"/>
<g stroke="#000"><line x1="351.87" y1="592.10" x2="351.87" y2="595.60" stroke-width="1.25"/><line x1="360.50" y1="592.10" x2="360.50" y2="595.60" stroke-width="1.25"/><line x1="367.20" y1="592.10" x2="367.20" y2="595.60" stroke-width="1.25"/><line x1="372.67" y1="592.10" x2="372.67" y2="595.60" stroke-width="1.25"/><line x1="377.30" y1="592.10" x2="377.30" y2="595.60" stroke-width="1.25"/><line x1="381.30" y1="592.10" x2="381.30" y2="595.60" stroke-width="1.25"/><line x1="384.84" y1="592.10" x2="384.84" y2="595.60" stroke-width="1.25"/><line x1="388.00" y1="592.10" x2="388.00" y2="598.20" stroke-width="1.45"/><line x1="408.80" y1="592.10" x2="408.80" y2="595.60" stroke-width="1.25"/><line x1="420.97" y1="592.10" x2="420.97" y2="595.60" stroke-width="1.25"/><line x1="429.60" y1="592.10" x2="429.60" y2="595.60" stroke-width="1.25"/><line x1="436.30" y1="592.10" x2="436.30" y2="595.60" stroke-width="1.25"/><line x1="441.77" y1="592.10" x2="441.77" y2="595.60" stroke-width="1.25"/><line x1="446.40" y1="592.10" x2="446.40" y2="595.60" stroke-width="1.25"/><line x1="450.40" y1="592.10" x2="450.40" y2="595.60" stroke-width="1.25"/><line x1="453.94" y1="592.10" x2="453.94" y2="595.60" stroke-width="1.25"/><line x1="457.10" y1="592.10" x2="457.10" y2="598.20" stroke-width="1.45"/><line x1="477.90" y1="592.10" x2="477.90" y2="595.60" stroke-width="1.25"/><line x1="490.07" y1="592.10" x2="490.07" y2="595.60" stroke-width="1.25"/><line x1="498.70" y1="592.10" x2="498.70" y2="595.60" stroke-width="1.25"/><line x1="505.40" y1="592.10" x2="505.40" y2="595.60" stroke-width="1.25"/><line x1="510.87" y1="592.10" x2="510.87" y2="595.60" stroke-width="1.25"/><line x1="515.50" y1="592.10" x2="515.50" y2="595.60" stroke-width="1.25"/><line x1="519.50" y1="592.10" x2="519.50" y2="595.60" stroke-width="1.25"/><line x1="523.04" y1="592.10" x2="523.04" y2="595.60" stroke-width="1.25"/><line x1="526.20" y1="592.10" x2="526.20" y2="598.20" stroke-width="1.45"/><line x1="547.00" y1="592.10" x2="547.00" y2="595.60" stroke-width="1.25"/><line x1="559.17" y1="592.10" x2="559.17" y2="595.60" stroke-width="1.25"/><line x1="567.80" y1="592.10" x2="567.80" y2="595.60" stroke-width="1.25"/><line x1="342.00" y1="587.58" x2="338.50" y2="587.58" stroke-width="1.25"/><line x1="342.00" y1="582.88" x2="338.50" y2="582.88" stroke-width="1.25"/><line x1="342.00" y1="578.90" x2="338.50" y2="578.90" stroke-width="1.25"/><line x1="342.00" y1="575.46" x2="338.50" y2="575.46" stroke-width="1.25"/><line x1="342.00" y1="572.42" x2="338.50" y2="572.42" stroke-width="1.25"/><line x1="342.00" y1="569.70" x2="335.90" y2="569.70" stroke-width="1.45"/><line x1="342.00" y1="551.82" x2="338.50" y2="551.82" stroke-width="1.25"/><line x1="342.00" y1="541.36" x2="338.50" y2="541.36" stroke-width="1.25"/><line x1="342.00" y1="533.94" x2="338.50" y2="533.94" stroke-width="1.25"/><line x1="342.00" y1="528.18" x2="338.50" y2="528.18" stroke-width="1.25"/><line x1="342.00" y1="523.48" x2="338.50" y2="523.48" stroke-width="1.25"/><line x1="342.00" y1="519.50" x2="338.50" y2="519.50" stroke-width="1.25"/><line x1="342.00" y1="516.06" x2="338.50" y2="516.06" stroke-width="1.25"/><line x1="342.00" y1="513.02" x2="338.50" y2="513.02" stroke-width="1.25"/><line x1="342.00" y1="510.30" x2="335.90" y2="510.30" stroke-width="1.45"/><line x1="342.00" y1="492.42" x2="338.50" y2="492.42" stroke-width="1.25"/><line x1="342.00" y1="481.96" x2="338.50" y2="481.96" stroke-width="1.25"/><line x1="342.00" y1="474.54" x2="338.50" y2="474.54" stroke-width="1.25"/><line x1="342.00" y1="468.78" x2="338.50" y2="468.78" stroke-width="1.25"/><line x1="342.00" y1="464.08" x2="338.50" y2="464.08" stroke-width="1.25"/><line x1="342.00" y1="460.10" x2="338.50" y2="460.10" stroke-width="1.25"/><line x1="342.00" y1="456.66" x2="338.50" y2="456.66" stroke-width="1.25"/><line x1="342.00" y1="453.62" x2="338.50" y2="453.62" stroke-width="1.25"/><line x1="342.00" y1="450.90" x2="335.90" y2="450.90" stroke-width="1.45"/><line x1="342.00" y1="433.02" x2="338.50" y2="433.02" stroke-width="1.25"/></g>
<text x="420.63" y="414.50" font-size="16.41" textLength="70.74" lengthAdjust="spacingAndGlyphs" fill="#000">t = 7 sec</text>
<clipPath id="clip8"><rect x="615.80" y="425.10" width="228.00" height="167.00"/></clipPath>
<g clip-path="url(#clip8)" stroke="#00b976" stroke-width="2.6" fill="none" stroke-linejoin="round" stroke-linecap="butt"><polyline points="672.15,545.20 683.65,510.40 695.15,499.80 706.65,499.80 718.15,496.00 729.65,522.10 741.15,518.10 752.65,556.70 764.15,540.80"/><line x1="672.15" y1="545.20" x2="672.15" y2="597.10"/><line x1="764.15" y1="540.80" x2="764.15" y2="597.10"/></g>
<g fill="#00b976" clip-path="url(#clip8)"><circle cx="672.15" cy="545.20" r="6.1"/><circle cx="683.65" cy="510.40" r="6.1"/><circle cx="695.15" cy="499.80" r="6.1"/><circle cx="706.65" cy="499.80" r="6.1"/><circle cx="718.15" cy="496.00" r="6.1"/><circle cx="729.65" cy="522.10" r="6.1"/><circle cx="741.15" cy="518.10" r="6.1"/><circle cx="752.65" cy="556.70" r="6.1"/><circle cx="764.15" cy="540.80" r="6.1"/></g>
<line x1="615.80" y1="555.40" x2="843.80" y2="555.40" stroke="#000" stroke-width="2.6" stroke-dasharray="9.6 4.2" clip-path="url(#clip8)"/>
<rect x="615.80" y="425.10" width="228.00" height="167.00" fill="none" stroke="#000" stroke-width="1.4"/>
<g stroke="#000"><line x1="625.67" y1="592.10" x2="625.67" y2="595.60" stroke-width="1.25"/><line x1="634.30" y1="592.10" x2="634.30" y2="595.60" stroke-width="1.25"/><line x1="641.00" y1="592.10" x2="641.00" y2="595.60" stroke-width="1.25"/><line x1="646.47" y1="592.10" x2="646.47" y2="595.60" stroke-width="1.25"/><line x1="651.10" y1="592.10" x2="651.10" y2="595.60" stroke-width="1.25"/><line x1="655.10" y1="592.10" x2="655.10" y2="595.60" stroke-width="1.25"/><line x1="658.64" y1="592.10" x2="658.64" y2="595.60" stroke-width="1.25"/><line x1="661.80" y1="592.10" x2="661.80" y2="598.20" stroke-width="1.45"/><line x1="682.60" y1="592.10" x2="682.60" y2="595.60" stroke-width="1.25"/><line x1="694.77" y1="592.10" x2="694.77" y2="595.60" stroke-width="1.25"/><line x1="703.40" y1="592.10" x2="703.40" y2="595.60" stroke-width="1.25"/><line x1="710.10" y1="592.10" x2="710.10" y2="595.60" stroke-width="1.25"/><line x1="715.57" y1="592.10" x2="715.57" y2="595.60" stroke-width="1.25"/><line x1="720.20" y1="592.10" x2="720.20" y2="595.60" stroke-width="1.25"/><line x1="724.20" y1="592.10" x2="724.20" y2="595.60" stroke-width="1.25"/><line x1="727.74" y1="592.10" x2="727.74" y2="595.60" stroke-width="1.25"/><line x1="730.90" y1="592.10" x2="730.90" y2="598.20" stroke-width="1.45"/><line x1="751.70" y1="592.10" x2="751.70" y2="595.60" stroke-width="1.25"/><line x1="763.87" y1="592.10" x2="763.87" y2="595.60" stroke-width="1.25"/><line x1="772.50" y1="592.10" x2="772.50" y2="595.60" stroke-width="1.25"/><line x1="779.20" y1="592.10" x2="779.20" y2="595.60" stroke-width="1.25"/><line x1="784.67" y1="592.10" x2="784.67" y2="595.60" stroke-width="1.25"/><line x1="789.30" y1="592.10" x2="789.30" y2="595.60" stroke-width="1.25"/><line x1="793.30" y1="592.10" x2="793.30" y2="595.60" stroke-width="1.25"/><line x1="796.84" y1="592.10" x2="796.84" y2="595.60" stroke-width="1.25"/><line x1="800.00" y1="592.10" x2="800.00" y2="598.20" stroke-width="1.45"/><line x1="820.80" y1="592.10" x2="820.80" y2="595.60" stroke-width="1.25"/><line x1="832.97" y1="592.10" x2="832.97" y2="595.60" stroke-width="1.25"/><line x1="841.60" y1="592.10" x2="841.60" y2="595.60" stroke-width="1.25"/><line x1="615.80" y1="587.58" x2="612.30" y2="587.58" stroke-width="1.25"/><line x1="615.80" y1="582.88" x2="612.30" y2="582.88" stroke-width="1.25"/><line x1="615.80" y1="578.90" x2="612.30" y2="578.90" stroke-width="1.25"/><line x1="615.80" y1="575.46" x2="612.30" y2="575.46" stroke-width="1.25"/><line x1="615.80" y1="572.42" x2="612.30" y2="572.42" stroke-width="1.25"/><line x1="615.80" y1="569.70" x2="609.70" y2="569.70" stroke-width="1.45"/><line x1="615.80" y1="551.82" x2="612.30" y2="551.82" stroke-width="1.25"/><line x1="615.80" y1="541.36" x2="612.30" y2="541.36" stroke-width="1.25"/><line x1="615.80" y1="533.94" x2="612.30" y2="533.94" stroke-width="1.25"/><line x1="615.80" y1="528.18" x2="612.30" y2="528.18" stroke-width="1.25"/><line x1="615.80" y1="523.48" x2="612.30" y2="523.48" stroke-width="1.25"/><line x1="615.80" y1="519.50" x2="612.30" y2="519.50" stroke-width="1.25"/><line x1="615.80" y1="516.06" x2="612.30" y2="516.06" stroke-width="1.25"/><line x1="615.80" y1="513.02" x2="612.30" y2="513.02" stroke-width="1.25"/><line x1="615.80" y1="510.30" x2="609.70" y2="510.30" stroke-width="1.45"/><line x1="615.80" y1="492.42" x2="612.30" y2="492.42" stroke-width="1.25"/><line x1="615.80" y1="481.96" x2="612.30" y2="481.96" stroke-width="1.25"/><line x1="615.80" y1="474.54" x2="612.30" y2="474.54" stroke-width="1.25"/><line x1="615.80" y1="468.78" x2="612.30" y2="468.78" stroke-width="1.25"/><line x1="615.80" y1="464.08" x2="612.30" y2="464.08" stroke-width="1.25"/><line x1="615.80" y1="460.10" x2="612.30" y2="460.10" stroke-width="1.25"/><line x1="615.80" y1="456.66" x2="612.30" y2="456.66" stroke-width="1.25"/><line x1="615.80" y1="453.62" x2="612.30" y2="453.62" stroke-width="1.25"/><line x1="615.80" y1="450.90" x2="609.70" y2="450.90" stroke-width="1.45"/><line x1="615.80" y1="433.02" x2="612.30" y2="433.02" stroke-width="1.25"/></g>
<text x="694.43" y="414.50" font-size="16.41" textLength="70.74" lengthAdjust="spacingAndGlyphs" fill="#000">t = 8 sec</text>
<clipPath id="clip9"><rect x="68.70" y="626.00" width="228.00" height="167.00"/></clipPath>
<g clip-path="url(#clip9)" stroke="#00ca59" stroke-width="2.6" fill="none" stroke-linejoin="round" stroke-linecap="butt"><polyline points="90.55,753.30 102.05,748.90 113.55,774.30 125.05,724.60 136.55,692.20 148.05,688.60 159.55,713.10 171.05,706.30 182.55,731.70 194.05,743.80 205.55,747.10 217.05,777.60 228.55,778.70"/><polyline points="263.05,783.10 274.55,784.60"/><line x1="90.55" y1="753.30" x2="90.55" y2="798.00"/><line x1="228.55" y1="778.70" x2="228.55" y2="798.00"/><line x1="263.05" y1="783.10" x2="263.05" y2="798.00"/><line x1="274.55" y1="784.60" x2="274.55" y2="798.00"/></g>
<g fill="#00ca59" clip-path="url(#clip9)"><circle cx="90.55" cy="753.30" r="6.1"/><circle cx="102.05" cy="748.90" r="6.1"/><circle cx="113.55" cy="774.30" r="6.1"/><circle cx="125.05" cy="724.60" r="6.1"/><circle cx="136.55" cy="692.20" r="6.1"/><circle cx="148.05" cy="688.60" r="6.1"/><circle cx="159.55" cy="713.10" r="6.1"/><circle cx="171.05" cy="706.30" r="6.1"/><circle cx="182.55" cy="731.70" r="6.1"/><circle cx="194.05" cy="743.80" r="6.1"/><circle cx="205.55" cy="747.10" r="6.1"/><circle cx="217.05" cy="777.60" r="6.1"/><circle cx="228.55" cy="778.70" r="6.1"/><circle cx="263.05" cy="783.10" r="6.1"/><circle cx="274.55" cy="784.60" r="6.1"/></g>
<line x1="68.70" y1="748.00" x2="296.70" y2="748.00" stroke="#000" stroke-width="2.6" stroke-dasharray="9.6 4.2" clip-path="url(#clip9)"/>
<rect x="68.70" y="626.00" width="228.00" height="167.00" fill="none" stroke="#000" stroke-width="1.4"/>
<g stroke="#000"><line x1="78.57" y1="793.00" x2="78.57" y2="796.50" stroke-width="1.25"/><line x1="87.20" y1="793.00" x2="87.20" y2="796.50" stroke-width="1.25"/><line x1="93.90" y1="793.00" x2="93.90" y2="796.50" stroke-width="1.25"/><line x1="99.37" y1="793.00" x2="99.37" y2="796.50" stroke-width="1.25"/><line x1="104.00" y1="793.00" x2="104.00" y2="796.50" stroke-width="1.25"/><line x1="108.00" y1="793.00" x2="108.00" y2="796.50" stroke-width="1.25"/><line x1="111.54" y1="793.00" x2="111.54" y2="796.50" stroke-width="1.25"/><line x1="114.70" y1="793.00" x2="114.70" y2="799.10" stroke-width="1.45"/><line x1="135.50" y1="793.00" x2="135.50" y2="796.50" stroke-width="1.25"/><line x1="147.67" y1="793.00" x2="147.67" y2="796.50" stroke-width="1.25"/><line x1="156.30" y1="793.00" x2="156.30" y2="796.50" stroke-width="1.25"/><line x1="163.00" y1="793.00" x2="163.00" y2="796.50" stroke-width="1.25"/><line x1="168.47" y1="793.00" x2="168.47" y2="796.50" stroke-width="1.25"/><line x1="173.10" y1="793.00" x2="173.10" y2="796.50" stroke-width="1.25"/><line x1="177.10" y1="793.00" x2="177.10" y2="796.50" stroke-width="1.25"/><line x1="180.64" y1="793.00" x2="180.64" y2="796.50" stroke-width="1.25"/><line x1="183.80" y1="793.00" x2="183.80" y2="799.10" stroke-width="1.45"/><line x1="204.60" y1="793.00" x2="204.60" y2="796.50" stroke-width="1.25"/><line x1="216.77" y1="793.00" x2="216.77" y2="796.50" stroke-width="1.25"/><line x1="225.40" y1="793.00" x2="225.40" y2="796.50" stroke-width="1.25"/><line x1="232.10" y1="793.00" x2="232.10" y2="796.50" stroke-width="1.25"/><line x1="237.57" y1="793.00" x2="237.57" y2="796.50" stroke-width="1.25"/><line x1="242.20" y1="793.00" x2="242.20" y2="796.50" stroke-width="1.25"/><line x1="246.20" y1="793.00" x2="246.20" y2="796.50" stroke-width="1.25"/><line x1="249.74" y1="793.00" x2="249.74" y2="796.50" stroke-width="1.25"/><line x1="252.90" y1="793.00" x2="252.90" y2="799.10" stroke-width="1.45"/><line x1="273.70" y1="793.00" x2="273.70" y2="796.50" stroke-width="1.25"/><line x1="285.87" y1="793.00" x2="285.87" y2="796.50" stroke-width="1.25"/><line x1="294.50" y1="793.00" x2="294.50" y2="796.50" stroke-width="1.25"/><line x1="68.70" y1="788.48" x2="65.20" y2="788.48" stroke-width="1.25"/><line x1="68.70" y1="783.78" x2="65.20" y2="783.78" stroke-width="1.25"/><line x1="68.70" y1="779.80" x2="65.20" y2="779.80" stroke-width="1.25"/><line x1="68.70" y1="776.36" x2="65.20" y2="776.36" stroke-width="1.25"/><line x1="68.70" y1="773.32" x2="65.20" y2="773.32" stroke-width="1.25"/><line x1="68.70" y1="770.60" x2="62.60" y2="770.60" stroke-width="1.45"/><line x1="68.70" y1="752.72" x2="65.20" y2="752.72" stroke-width="1.25"/><line x1="68.70" y1="742.26" x2="65.20" y2="742.26" stroke-width="1.25"/><line x1="68.70" y1="734.84" x2="65.20" y2="734.84" stroke-width="1.25"/><line x1="68.70" y1="729.08" x2="65.20" y2="729.08" stroke-width="1.25"/><line x1="68.70" y1="724.38" x2="65.20" y2="724.38" stroke-width="1.25"/><line x1="68.70" y1="720.40" x2="65.20" y2="720.40" stroke-width="1.25"/><line x1="68.70" y1="716.96" x2="65.20" y2="716.96" stroke-width="1.25"/><line x1="68.70" y1="713.92" x2="65.20" y2="713.92" stroke-width="1.25"/><line x1="68.70" y1="711.20" x2="62.60" y2="711.20" stroke-width="1.45"/><line x1="68.70" y1="693.32" x2="65.20" y2="693.32" stroke-width="1.25"/><line x1="68.70" y1="682.86" x2="65.20" y2="682.86" stroke-width="1.25"/><line x1="68.70" y1="675.44" x2="65.20" y2="675.44" stroke-width="1.25"/><line x1="68.70" y1="669.68" x2="65.20" y2="669.68" stroke-width="1.25"/><line x1="68.70" y1="664.98" x2="65.20" y2="664.98" stroke-width="1.25"/><line x1="68.70" y1="661.00" x2="65.20" y2="661.00" stroke-width="1.25"/><line x1="68.70" y1="657.56" x2="65.20" y2="657.56" stroke-width="1.25"/><line x1="68.70" y1="654.52" x2="65.20" y2="654.52" stroke-width="1.25"/><line x1="68.70" y1="651.80" x2="62.60" y2="651.80" stroke-width="1.45"/><line x1="68.70" y1="633.92" x2="65.20" y2="633.92" stroke-width="1.25"/></g>
<text x="147.33" y="615.40" font-size="16.41" textLength="70.74" lengthAdjust="spacingAndGlyphs" fill="#000">t = 9 sec</text>
<text x="26.21" y="777.80" font-size="18.18" textLength="22.14" lengthAdjust="spacingAndGlyphs" fill="#000">10</text>
<text x="48.75" y="771.19" font-size="12.73" textLength="7.75" lengthAdjust="spacingAndGlyphs" fill="#000">5</text>
<text x="26.21" y="718.40" font-size="18.18" textLength="22.14" lengthAdjust="spacingAndGlyphs" fill="#000">10</text>
<text x="48.75" y="711.79" font-size="12.73" textLength="7.75" lengthAdjust="spacingAndGlyphs" fill="#000">6</text>
<text x="26.21" y="659.00" font-size="18.18" textLength="22.14" lengthAdjust="spacingAndGlyphs" fill="#000">10</text>
<text x="48.75" y="652.39" font-size="12.73" textLength="7.75" lengthAdjust="spacingAndGlyphs" fill="#000">7</text>
<text transform="translate(15.40,709.50) rotate(-90)" x="-51.31" y="0" font-size="18.18" textLength="102.62" lengthAdjust="spacingAndGlyphs" fill="#000">Energy Flux</text>
<text x="100.15" y="819.20" font-size="18.18" textLength="22.14" lengthAdjust="spacingAndGlyphs" fill="#000">10</text>
<text x="122.70" y="812.59" font-size="12.73" textLength="7.75" lengthAdjust="spacingAndGlyphs" fill="#000">2</text>
<text x="169.25" y="819.20" font-size="18.18" textLength="22.14" lengthAdjust="spacingAndGlyphs" fill="#000">10</text>
<text x="191.80" y="812.59" font-size="12.73" textLength="7.75" lengthAdjust="spacingAndGlyphs" fill="#000">3</text>
<text x="238.35" y="819.20" font-size="18.18" textLength="22.14" lengthAdjust="spacingAndGlyphs" fill="#000">10</text>
<text x="260.90" y="812.59" font-size="12.73" textLength="7.75" lengthAdjust="spacingAndGlyphs" fill="#000">4</text>
<text x="131.08" y="843.60" font-size="18.18" textLength="102.63" lengthAdjust="spacingAndGlyphs" fill="#000">Energy (eV)</text>
<clipPath id="clip10"><rect x="342.00" y="626.00" width="228.00" height="167.00"/></clipPath>
<g clip-path="url(#clip10)" stroke="#63d82d" stroke-width="2.6" fill="none" stroke-linejoin="round" stroke-linecap="butt"><polyline points="375.35,767.00 386.85,774.30 398.35,728.40 409.85,704.70 421.35,698.10 432.85,705.20 444.35,703.00 455.85,703.20 467.35,726.10 478.85,775.40 490.35,759.20"/><line x1="375.35" y1="767.00" x2="375.35" y2="798.00"/><line x1="490.35" y1="759.20" x2="490.35" y2="798.00"/></g>
<g fill="#63d82d" clip-path="url(#clip10)"><circle cx="375.35" cy="767.00" r="6.1"/><circle cx="386.85" cy="774.30" r="6.1"/><circle cx="398.35" cy="728.40" r="6.1"/><circle cx="409.85" cy="704.70" r="6.1"/><circle cx="421.35" cy="698.10" r="6.1"/><circle cx="432.85" cy="705.20" r="6.1"/><circle cx="444.35" cy="703.00" r="6.1"/><circle cx="455.85" cy="703.20" r="6.1"/><circle cx="467.35" cy="726.10" r="6.1"/><circle cx="478.85" cy="775.40" r="6.1"/><circle cx="490.35" cy="759.20" r="6.1"/></g>
<line x1="342.00" y1="757.50" x2="570.00" y2="757.50" stroke="#000" stroke-width="2.6" stroke-dasharray="9.6 4.2" clip-path="url(#clip10)"/>
<rect x="342.00" y="626.00" width="228.00" height="167.00" fill="none" stroke="#000" stroke-width="1.4"/>
<g stroke="#000"><line x1="351.87" y1="793.00" x2="351.87" y2="796.50" stroke-width="1.25"/><line x1="360.50" y1="793.00" x2="360.50" y2="796.50" stroke-width="1.25"/><line x1="367.20" y1="793.00" x2="367.20" y2="796.50" stroke-width="1.25"/><line x1="372.67" y1="793.00" x2="372.67" y2="796.50" stroke-width="1.25"/><line x1="377.30" y1="793.00" x2="377.30" y2="796.50" stroke-width="1.25"/><line x1="381.30" y1="793.00" x2="381.30" y2="796.50" stroke-width="1.25"/><line x1="384.84" y1="793.00" x2="384.84" y2="796.50" stroke-width="1.25"/><line x1="388.00" y1="793.00" x2="388.00" y2="799.10" stroke-width="1.45"/><line x1="408.80" y1="793.00" x2="408.80" y2="796.50" stroke-width="1.25"/><line x1="420.97" y1="793.00" x2="420.97" y2="796.50" stroke-width="1.25"/><line x1="429.60" y1="793.00" x2="429.60" y2="796.50" stroke-width="1.25"/><line x1="436.30" y1="793.00" x2="436.30" y2="796.50" stroke-width="1.25"/><line x1="441.77" y1="793.00" x2="441.77" y2="796.50" stroke-width="1.25"/><line x1="446.40" y1="793.00" x2="446.40" y2="796.50" stroke-width="1.25"/><line x1="450.40" y1="793.00" x2="450.40" y2="796.50" stroke-width="1.25"/><line x1="453.94" y1="793.00" x2="453.94" y2="796.50" stroke-width="1.25"/><line x1="457.10" y1="793.00" x2="457.10" y2="799.10" stroke-width="1.45"/><line x1="477.90" y1="793.00" x2="477.90" y2="796.50" stroke-width="1.25"/><line x1="490.07" y1="793.00" x2="490.07" y2="796.50" stroke-width="1.25"/><line x1="498.70" y1="793.00" x2="498.70" y2="796.50" stroke-width="1.25"/><line x1="505.40" y1="793.00" x2="505.40" y2="796.50" stroke-width="1.25"/><line x1="510.87" y1="793.00" x2="510.87" y2="796.50" stroke-width="1.25"/><line x1="515.50" y1="793.00" x2="515.50" y2="796.50" stroke-width="1.25"/><line x1="519.50" y1="793.00" x2="519.50" y2="796.50" stroke-width="1.25"/><line x1="523.04" y1="793.00" x2="523.04" y2="796.50" stroke-width="1.25"/><line x1="526.20" y1="793.00" x2="526.20" y2="799.10" stroke-width="1.45"/><line x1="547.00" y1="793.00" x2="547.00" y2="796.50" stroke-width="1.25"/><line x1="559.17" y1="793.00" x2="559.17" y2="796.50" stroke-width="1.25"/><line x1="567.80" y1="793.00" x2="567.80" y2="796.50" stroke-width="1.25"/><line x1="342.00" y1="788.48" x2="338.50" y2="788.48" stroke-width="1.25"/><line x1="342.00" y1="783.78" x2="338.50" y2="783.78" stroke-width="1.25"/><line x1="342.00" y1="779.80" x2="338.50" y2="779.80" stroke-width="1.25"/><line x1="342.00" y1="776.36" x2="338.50" y2="776.36" stroke-width="1.25"/><line x1="342.00" y1="773.32" x2="338.50" y2="773.32" stroke-width="1.25"/><line x1="342.00" y1="770.60" x2="335.90" y2="770.60" stroke-width="1.45"/><line x1="342.00" y1="752.72" x2="338.50" y2="752.72" stroke-width="1.25"/><line x1="342.00" y1="742.26" x2="338.50" y2="742.26" stroke-width="1.25"/><line x1="342.00" y1="734.84" x2="338.50" y2="734.84" stroke-width="1.25"/><line x1="342.00" y1="729.08" x2="338.50" y2="729.08" stroke-width="1.25"/><line x1="342.00" y1="724.38" x2="338.50" y2="724.38" stroke-width="1.25"/><line x1="342.00" y1="720.40" x2="338.50" y2="720.40" stroke-width="1.25"/><line x1="342.00" y1="716.96" x2="338.50" y2="716.96" stroke-width="1.25"/><line x1="342.00" y1="713.92" x2="338.50" y2="713.92" stroke-width="1.25"/><line x1="342.00" y1="711.20" x2="335.90" y2="711.20" stroke-width="1.45"/><line x1="342.00" y1="693.32" x2="338.50" y2="693.32" stroke-width="1.25"/><line x1="342.00" y1="682.86" x2="338.50" y2="682.86" stroke-width="1.25"/><line x1="342.00" y1="675.44" x2="338.50" y2="675.44" stroke-width="1.25"/><line x1="342.00" y1="669.68" x2="338.50" y2="669.68" stroke-width="1.25"/><line x1="342.00" y1="664.98" x2="338.50" y2="664.98" stroke-width="1.25"/><line x1="342.00" y1="661.00" x2="338.50" y2="661.00" stroke-width="1.25"/><line x1="342.00" y1="657.56" x2="338.50" y2="657.56" stroke-width="1.25"/><line x1="342.00" y1="654.52" x2="338.50" y2="654.52" stroke-width="1.25"/><line x1="342.00" y1="651.80" x2="335.90" y2="651.80" stroke-width="1.45"/><line x1="342.00" y1="633.92" x2="338.50" y2="633.92" stroke-width="1.25"/></g>
<text x="415.63" y="615.40" font-size="16.41" textLength="80.73" lengthAdjust="spacingAndGlyphs" fill="#000">t = 10 sec</text>
<text x="373.45" y="819.20" font-size="18.18" textLength="22.14" lengthAdjust="spacingAndGlyphs" fill="#000">10</text>
<text x="396.00" y="812.59" font-size="12.73" textLength="7.75" lengthAdjust="spacingAndGlyphs" fill="#000">2</text>
<text x="442.55" y="819.20" font-size="18.18" textLength="22.14" lengthAdjust="spacingAndGlyphs" fill="#000">10</text>
<text x="465.10" y="812.59" font-size="12.73" textLength="7.75" lengthAdjust="spacingAndGlyphs" fill="#000">3</text>
<text x="511.65" y="819.20" font-size="18.18" textLength="22.14" lengthAdjust="spacingAndGlyphs" fill="#000">10</text>
<text x="534.20" y="812.59" font-size="12.73" textLength="7.75" lengthAdjust="spacingAndGlyphs" fill="#000">4</text>
<text x="404.38" y="843.60" font-size="18.18" textLength="102.63" lengthAdjust="spacingAndGlyphs" fill="#000">Energy (eV)</text>
<clipPath id="clip11"><rect x="615.80" y="626.00" width="228.00" height="167.00"/></clipPath>
<g clip-path="url(#clip11)" stroke="#bee100" stroke-width="2.6" fill="none" stroke-linejoin="round" stroke-linecap="butt"><polyline points="672.15,710.30 683.65,690.00 695.15,734.10 706.65,734.10 718.15,717.50 729.65,719.10"/><polyline points="798.65,780.90 810.15,783.10"/><line x1="672.15" y1="710.30" x2="672.15" y2="798.00"/><line x1="729.65" y1="719.10" x2="729.65" y2="798.00"/><line x1="798.65" y1="780.90" x2="798.65" y2="798.00"/><line x1="810.15" y1="783.10" x2="810.15" y2="798.00"/></g>
<g fill="#bee100" clip-path="url(#clip11)"><circle cx="672.15" cy="710.30" r="6.1"/><circle cx="683.65" cy="690.00" r="6.1"/><circle cx="695.15" cy="734.10" r="6.1"/><circle cx="706.65" cy="734.10" r="6.1"/><circle cx="718.15" cy="717.50" r="6.1"/><circle cx="729.65" cy="719.10" r="6.1"/><circle cx="798.65" cy="780.90" r="6.1"/><circle cx="810.15" cy="783.10" r="6.1"/></g>
<line x1="615.80" y1="749.40" x2="843.80" y2="749.40" stroke="#000" stroke-width="2.6" stroke-dasharray="9.6 4.2" clip-path="url(#clip11)"/>
<rect x="615.80" y="626.00" width="228.00" height="167.00" fill="none" stroke="#000" stroke-width="1.4"/>
<g stroke="#000"><line x1="625.67" y1="793.00" x2="625.67" y2="796.50" stroke-width="1.25"/><line x1="634.30" y1="793.00" x2="634.30" y2="796.50" stroke-width="1.25"/><line x1="641.00" y1="793.00" x2="641.00" y2="796.50" stroke-width="1.25"/><line x1="646.47" y1="793.00" x2="646.47" y2="796.50" stroke-width="1.25"/><line x1="651.10" y1="793.00" x2="651.10" y2="796.50" stroke-width="1.25"/><line x1="655.10" y1="793.00" x2="655.10" y2="796.50" stroke-width="1.25"/><line x1="658.64" y1="793.00" x2="658.64" y2="796.50" stroke-width="1.25"/><line x1="661.80" y1="793.00" x2="661.80" y2="799.10" stroke-width="1.45"/><line x1="682.60" y1="793.00" x2="682.60" y2="796.50" stroke-width="1.25"/><line x1="694.77" y1="793.00" x2="694.77" y2="796.50" stroke-width="1.25"/><line x1="703.40" y1="793.00" x2="703.40" y2="796.50" stroke-width="1.25"/><line x1="710.10" y1="793.00" x2="710.10" y2="796.50" stroke-width="1.25"/><line x1="715.57" y1="793.00" x2="715.57" y2="796.50" stroke-width="1.25"/><line x1="720.20" y1="793.00" x2="720.20" y2="796.50" stroke-width="1.25"/><line x1="724.20" y1="793.00" x2="724.20" y2="796.50" stroke-width="1.25"/><line x1="727.74" y1="793.00" x2="727.74" y2="796.50" stroke-width="1.25"/><line x1="730.90" y1="793.00" x2="730.90" y2="799.10" stroke-width="1.45"/><line x1="751.70" y1="793.00" x2="751.70" y2="796.50" stroke-width="1.25"/><line x1="763.87" y1="793.00" x2="763.87" y2="796.50" stroke-width="1.25"/><line x1="772.50" y1="793.00" x2="772.50" y2="796.50" stroke-width="1.25"/><line x1="779.20" y1="793.00" x2="779.20" y2="796.50" stroke-width="1.25"/><line x1="784.67" y1="793.00" x2="784.67" y2="796.50" stroke-width="1.25"/><line x1="789.30" y1="793.00" x2="789.30" y2="796.50" stroke-width="1.25"/><line x1="793.30" y1="793.00" x2="793.30" y2="796.50" stroke-width="1.25"/><line x1="796.84" y1="793.00" x2="796.84" y2="796.50" stroke-width="1.25"/><line x1="800.00" y1="793.00" x2="800.00" y2="799.10" stroke-width="1.45"/><line x1="820.80" y1="793.00" x2="820.80" y2="796.50" stroke-width="1.25"/><line x1="832.97" y1="793.00" x2="832.97" y2="796.50" stroke-width="1.25"/><line x1="841.60" y1="793.00" x2="841.60" y2="796.50" stroke-width="1.25"/><line x1="615.80" y1="788.48" x2="612.30" y2="788.48" stroke-width="1.25"/><line x1="615.80" y1="783.78" x2="612.30" y2="783.78" stroke-width="1.25"/><line x1="615.80" y1="779.80" x2="612.30" y2="779.80" stroke-width="1.25"/><line x1="615.80" y1="776.36" x2="612.30" y2="776.36" stroke-width="1.25"/><line x1="615.80" y1="773.32" x2="612.30" y2="773.32" stroke-width="1.25"/><line x1="615.80" y1="770.60" x2="609.70" y2="770.60" stroke-width="1.45"/><line x1="615.80" y1="752.72" x2="612.30" y2="752.72" stroke-width="1.25"/><line x1="615.80" y1="742.26" x2="612.30" y2="742.26" stroke-width="1.25"/><line x1="615.80" y1="734.84" x2="612.30" y2="734.84" stroke-width="1.25"/><line x1="615.80" y1="729.08" x2="612.30" y2="729.08" stroke-width="1.25"/><line x1="615.80" y1="724.38" x2="612.30" y2="724.38" stroke-width="1.25"/><line x1="615.80" y1="720.40" x2="612.30" y2="720.40" stroke-width="1.25"/><line x1="615.80" y1="716.96" x2="612.30" y2="716.96" stroke-width="1.25"/><line x1="615.80" y1="713.92" x2="612.30" y2="713.92" stroke-width="1.25"/><line x1="615.80" y1="711.20" x2="609.70" y2="711.20" stroke-width="1.45"/><line x1="615.80" y1="693.32" x2="612.30" y2="693.32" stroke-width="1.25"/><line x1="615.80" y1="682.86" x2="612.30" y2="682.86" stroke-width="1.25"/><line x1="615.80" y1="675.44" x2="612.30" y2="675.44" stroke-width="1.25"/><line x1="615.80" y1="669.68" x2="612.30" y2="669.68" stroke-width="1.25"/><line x1="615.80" y1="664.98" x2="612.30" y2="664.98" stroke-width="1.25"/><line x1="615.80" y1="661.00" x2="612.30" y2="661.00" stroke-width="1.25"/><line x1="615.80" y1="657.56" x2="612.30" y2="657.56" stroke-width="1.25"/><line x1="615.80" y1="654.52" x2="612.30" y2="654.52" stroke-width="1.25"/><line x1="615.80" y1="651.80" x2="609.70" y2="651.80" stroke-width="1.45"/><line x1="615.80" y1="633.92" x2="612.30" y2="633.92" stroke-width="1.25"/></g>
<text x="689.43" y="615.40" font-size="16.41" textLength="80.73" lengthAdjust="spacingAndGlyphs" fill="#000">t = 11 sec</text>
<text x="647.25" y="819.20" font-size="18.18" textLength="22.14" lengthAdjust="spacingAndGlyphs" fill="#000">10</text>
<text x="669.80" y="812.59" font-size="12.73" textLength="7.75" lengthAdjust="spacingAndGlyphs" fill="#000">2</text>
<text x="716.35" y="819.20" font-size="18.18" textLength="22.14" lengthAdjust="spacingAndGlyphs" fill="#000">10</text>
<text x="738.90" y="812.59" font-size="12.73" textLength="7.75" lengthAdjust="spacingAndGlyphs" fill="#000">3</text>
<text x="785.45" y="819.20" font-size="18.18" textLength="22.14" lengthAdjust="spacingAndGlyphs" fill="#000">10</text>
<text x="808.00" y="812.59" font-size="12.73" textLength="7.75" lengthAdjust="spacingAndGlyphs" fill="#000">4</text>
<text x="678.18" y="843.60" font-size="18.18" textLength="102.63" lengthAdjust="spacingAndGlyphs" fill="#000">Energy (eV)</text>
<text x="627.43" y="42.00" font-size="14.63" textLength="122.03" lengthAdjust="spacingAndGlyphs" fill="#ff0000">Out-of-Population</text>
<text x="626.80" y="57.95" font-size="14.63" textLength="81.03" lengthAdjust="spacingAndGlyphs" fill="#ff0000">Low Energy</text>
<text x="627.43" y="73.90" font-size="14.63" textLength="48.87" lengthAdjust="spacingAndGlyphs" fill="#ff0000">Counts</text>
<text x="346.83" y="242.50" font-size="14.63" textLength="122.03" lengthAdjust="spacingAndGlyphs" fill="#ff0000">Out-of-Population</text>
<text x="346.20" y="258.45" font-size="14.63" textLength="81.03" lengthAdjust="spacingAndGlyphs" fill="#ff0000">Low Energy</text>
<text x="346.83" y="274.40" font-size="14.63" textLength="48.87" lengthAdjust="spacingAndGlyphs" fill="#ff0000">Counts</text>
<text x="347.13" y="443.50" font-size="14.63" textLength="122.03" lengthAdjust="spacingAndGlyphs" fill="#ff0000">Out-of-Population</text>
<text x="346.50" y="459.45" font-size="14.63" textLength="81.03" lengthAdjust="spacingAndGlyphs" fill="#ff0000">Low Energy</text>
<text x="347.13" y="475.40" font-size="14.63" textLength="48.87" lengthAdjust="spacingAndGlyphs" fill="#ff0000">Counts</text>
<text x="80.60" y="651.90" font-size="14.63" textLength="162.16" lengthAdjust="spacingAndGlyphs" fill="#ff0000">Not perfectly Unimodal</text>
<text x="661.90" y="463.80" font-size="14.63" textLength="50.33" lengthAdjust="spacingAndGlyphs" fill="#ff0000">Finding</text>
<text x="717.68" y="463.80" font-size="14.63" textLength="8.85" lengthAdjust="spacingAndGlyphs" fill="#ff0000" font-style="italic">E</text>
<text x="726.53" y="466.40" font-size="10.24" textLength="8.11" lengthAdjust="spacingAndGlyphs" fill="#ff0000" font-style="italic">ic</text>
<text x="740.29" y="463.80" font-size="14.63" textLength="60.72" lengthAdjust="spacingAndGlyphs" fill="#ff0000">Requires</text>
<text x="661.90" y="480.30" font-size="14.63" textLength="93.69" lengthAdjust="spacingAndGlyphs" fill="#ff0000">Extrapolation</text>
<text x="661.90" y="661.80" font-size="14.63" textLength="50.33" lengthAdjust="spacingAndGlyphs" fill="#ff0000">Finding</text>
<text x="717.68" y="661.80" font-size="14.63" textLength="8.85" lengthAdjust="spacingAndGlyphs" fill="#ff0000" font-style="italic">E</text>
<text x="726.53" y="664.40" font-size="10.24" textLength="8.11" lengthAdjust="spacingAndGlyphs" fill="#ff0000" font-style="italic">ic</text>
<text x="740.29" y="661.80" font-size="14.63" textLength="60.72" lengthAdjust="spacingAndGlyphs" fill="#ff0000">Requires</text>
<text x="661.90" y="678.30" font-size="14.63" textLength="93.69" lengthAdjust="spacingAndGlyphs" fill="#ff0000">Extrapolation</text>
<rect x="851.4" y="23.2" width="211.6" height="31.2" rx="3" ry="3" fill="#fff" stroke="#cccccc" stroke-width="1.4"/>
<line x1="857.8" y1="37.9" x2="893.2" y2="37.9" stroke="#000" stroke-width="2.6" stroke-dasharray="9.6 4.2"/>
<text x="906.09" y="43.90" font-size="18.18" textLength="149.52" lengthAdjust="spacingAndGlyphs" fill="#000">10% of Peak Flux</text>
<clipPath id="sclip"><rect x="379.80" y="905.30" width="348.70" height="162.00"/></clipPath>
<g clip-path="url(#sclip)"><rect x="379.80" y="982.04" width="29.46" height="8.93" fill="#00ffd3"/><rect x="379.80" y="973.51" width="29.46" height="8.93" fill="#ffee00"/><rect x="379.80" y="964.98" width="29.46" height="8.93" fill="#ff7000"/><rect x="379.80" y="956.46" width="29.46" height="8.93" fill="#ff2800"/><rect x="379.80" y="947.93" width="29.46" height="8.93" fill="#bcff00"/><rect x="379.80" y="939.41" width="29.46" height="8.93" fill="#89ff1d"/><rect x="379.80" y="930.88" width="29.46" height="8.93" fill="#6dff37"/><rect x="379.80" y="922.35" width="29.46" height="8.93" fill="#d0ff00"/><rect x="379.80" y="913.83" width="29.46" height="8.93" fill="#e7ff00"/><rect x="379.80" y="905.30" width="29.46" height="8.93" fill="#9bff00"/><rect x="408.86" y="1016.14" width="29.46" height="8.93" fill="#00ffd3"/><rect x="408.86" y="1007.62" width="29.46" height="8.93" fill="#00ffa7"/><rect x="408.86" y="999.09" width="29.46" height="8.93" fill="#00ff6c"/><rect x="408.86" y="990.56" width="29.46" height="8.93" fill="#00ff6c"/><rect x="408.86" y="982.04" width="29.46" height="8.93" fill="#8fff13"/><rect x="408.86" y="973.51" width="29.46" height="8.93" fill="#ff4900"/><rect x="408.86" y="964.98" width="29.46" height="8.93" fill="#ff8300"/><rect x="408.86" y="956.46" width="29.46" height="8.93" fill="#ff7400"/><rect x="408.86" y="947.93" width="29.46" height="8.93" fill="#b2ff00"/><rect x="408.86" y="939.41" width="29.46" height="8.93" fill="#00ff7c"/><rect x="408.86" y="930.88" width="29.46" height="8.93" fill="#b2ff00"/><rect x="408.86" y="922.35" width="29.46" height="8.93" fill="#cbff00"/><rect x="408.86" y="913.83" width="29.46" height="8.93" fill="#e3ff00"/><rect x="408.86" y="905.30" width="29.46" height="8.93" fill="#ffee00"/><rect x="437.92" y="1058.77" width="29.46" height="8.93" fill="#83ff25"/><rect x="437.92" y="1050.25" width="29.46" height="8.93" fill="#00ff99"/><rect x="437.92" y="1024.67" width="29.46" height="8.93" fill="#00ffa3"/><rect x="437.92" y="1016.14" width="29.46" height="8.93" fill="#00ffd3"/><rect x="437.92" y="1007.62" width="29.46" height="8.93" fill="#00ffdd"/><rect x="437.92" y="999.09" width="29.46" height="8.93" fill="#47ff4b"/><rect x="437.92" y="990.56" width="29.46" height="8.93" fill="#ffcd00"/><rect x="437.92" y="982.04" width="29.46" height="8.93" fill="#ffe300"/><rect x="437.92" y="973.51" width="29.46" height="8.93" fill="#ff7000"/><rect x="437.92" y="964.98" width="29.46" height="8.93" fill="#52ff46"/><rect x="437.92" y="956.46" width="29.46" height="8.93" fill="#00ffae"/><rect x="437.92" y="947.93" width="29.46" height="8.93" fill="#52ff46"/><rect x="437.92" y="939.41" width="29.46" height="8.93" fill="#47ff4b"/><rect x="437.92" y="930.88" width="29.46" height="8.93" fill="#b2ff00"/><rect x="437.92" y="922.35" width="29.46" height="8.93" fill="#c6ff00"/><rect x="437.92" y="913.83" width="29.46" height="8.93" fill="#c1ff00"/><rect x="437.92" y="905.30" width="29.46" height="8.93" fill="#e7ff00"/><rect x="466.98" y="1024.67" width="29.46" height="8.93" fill="#00ffd7"/><rect x="466.98" y="1016.14" width="29.46" height="8.93" fill="#00ffd7"/><rect x="466.98" y="1007.62" width="29.46" height="8.93" fill="#83ff25"/><rect x="466.98" y="999.09" width="29.46" height="8.93" fill="#fff100"/><rect x="466.98" y="990.56" width="29.46" height="8.93" fill="#ff6000"/><rect x="466.98" y="982.04" width="29.46" height="8.93" fill="#ff4900"/><rect x="466.98" y="973.51" width="29.46" height="8.93" fill="#ff3500"/><rect x="466.98" y="964.98" width="29.46" height="8.93" fill="#fff100"/><rect x="466.98" y="956.46" width="29.46" height="8.93" fill="#ffee00"/><rect x="466.98" y="947.93" width="29.46" height="8.93" fill="#29ff54"/><rect x="466.98" y="939.41" width="29.46" height="8.93" fill="#00ff68"/><rect x="466.98" y="930.88" width="29.46" height="8.93" fill="#00ff5c"/><rect x="466.98" y="922.35" width="29.46" height="8.93" fill="#00ff78"/><rect x="466.98" y="913.83" width="29.46" height="8.93" fill="#00ff68"/><rect x="466.98" y="905.30" width="29.46" height="8.93" fill="#00ff7c"/><rect x="496.03" y="1058.77" width="29.46" height="8.93" fill="#00ff70"/><rect x="496.03" y="1041.72" width="29.46" height="8.93" fill="#00ffc2"/><rect x="496.03" y="1033.19" width="29.46" height="8.93" fill="#00ffa3"/><rect x="496.03" y="1024.67" width="29.46" height="8.93" fill="#00ffd7"/><rect x="496.03" y="1016.14" width="29.46" height="8.93" fill="#00ffa0"/><rect x="496.03" y="1007.62" width="29.46" height="8.93" fill="#d5ff00"/><rect x="496.03" y="999.09" width="29.46" height="8.93" fill="#ff7700"/><rect x="496.03" y="990.56" width="29.46" height="8.93" fill="#ff7700"/><rect x="496.03" y="982.04" width="29.46" height="8.93" fill="#ff9200"/><rect x="496.03" y="973.51" width="29.46" height="8.93" fill="#c6ff00"/><rect x="496.03" y="964.98" width="29.46" height="8.93" fill="#cbff00"/><rect x="496.03" y="956.46" width="29.46" height="8.93" fill="#3aff4f"/><rect x="496.03" y="947.93" width="29.46" height="8.93" fill="#00ff78"/><rect x="496.03" y="939.41" width="29.46" height="8.93" fill="#00ff68"/><rect x="496.03" y="930.88" width="29.46" height="8.93" fill="#00f5eb"/><rect x="496.03" y="922.35" width="29.46" height="8.93" fill="#00edf2"/><rect x="496.03" y="905.30" width="29.46" height="8.93" fill="#00e5f9"/><rect x="525.09" y="1016.14" width="29.46" height="8.93" fill="#b7ff00"/><rect x="525.09" y="1007.62" width="29.46" height="8.93" fill="#ffa800"/><rect x="525.09" y="999.09" width="29.46" height="8.93" fill="#ff6c00"/><rect x="525.09" y="990.56" width="29.46" height="8.93" fill="#ffa100"/><rect x="525.09" y="982.04" width="29.46" height="8.93" fill="#ffd400"/><rect x="525.09" y="973.51" width="29.46" height="8.93" fill="#d5ff00"/><rect x="525.09" y="964.98" width="29.46" height="8.93" fill="#52ff46"/><rect x="525.09" y="956.46" width="29.46" height="8.93" fill="#00ff78"/><rect x="525.09" y="947.93" width="29.46" height="8.93" fill="#52ff46"/><rect x="525.09" y="939.41" width="29.46" height="8.93" fill="#00f9e7"/><rect x="525.09" y="930.88" width="29.46" height="8.93" fill="#00ff95"/><rect x="525.09" y="922.35" width="29.46" height="8.93" fill="#00edf2"/><rect x="554.15" y="1033.19" width="29.46" height="8.93" fill="#00ffd7"/><rect x="554.15" y="1024.67" width="29.46" height="8.93" fill="#74ff31"/><rect x="554.15" y="1016.14" width="29.46" height="8.93" fill="#d9ff00"/><rect x="554.15" y="1007.62" width="29.46" height="8.93" fill="#ffa100"/><rect x="554.15" y="999.09" width="29.46" height="8.93" fill="#ff9200"/><rect x="554.15" y="990.56" width="29.46" height="8.93" fill="#ffd400"/><rect x="554.15" y="982.04" width="29.46" height="8.93" fill="#fff100"/><rect x="554.15" y="973.51" width="29.46" height="8.93" fill="#95ff04"/><rect x="554.15" y="964.98" width="29.46" height="8.93" fill="#00ff5c"/><rect x="554.15" y="956.46" width="29.46" height="8.93" fill="#00ff60"/><rect x="554.15" y="922.35" width="29.46" height="8.93" fill="#00ffbf"/><rect x="554.15" y="913.83" width="29.46" height="8.93" fill="#00e9f5"/><rect x="583.21" y="1050.25" width="29.46" height="8.93" fill="#00ff99"/><rect x="583.21" y="1041.72" width="29.46" height="8.93" fill="#00ffc2"/><rect x="583.21" y="1016.14" width="29.46" height="8.93" fill="#d9ff00"/><rect x="583.21" y="1007.62" width="29.46" height="8.93" fill="#ff9d00"/><rect x="583.21" y="999.09" width="29.46" height="8.93" fill="#ff7b00"/><rect x="583.21" y="990.56" width="29.46" height="8.93" fill="#d9ff00"/><rect x="583.21" y="982.04" width="29.46" height="8.93" fill="#65ff3c"/><rect x="583.21" y="973.51" width="29.46" height="8.93" fill="#65ff3c"/><rect x="583.21" y="964.98" width="29.46" height="8.93" fill="#00ffda"/><rect x="583.21" y="956.46" width="29.46" height="8.93" fill="#00ffae"/><rect x="583.21" y="947.93" width="29.46" height="8.93" fill="#00ffae"/><rect x="583.21" y="939.41" width="29.46" height="8.93" fill="#00ffb1"/><rect x="583.21" y="905.30" width="29.46" height="8.93" fill="#00e5f9"/><rect x="612.27" y="1024.67" width="29.46" height="8.93" fill="#00ff83"/><rect x="612.27" y="1016.14" width="29.46" height="8.93" fill="#b7ff00"/><rect x="612.27" y="1007.62" width="29.46" height="8.93" fill="#e3ff00"/><rect x="612.27" y="999.09" width="29.46" height="8.93" fill="#e3ff00"/><rect x="612.27" y="990.56" width="29.46" height="8.93" fill="#f3f900"/><rect x="612.27" y="982.04" width="29.46" height="8.93" fill="#7cff2b"/><rect x="612.27" y="973.51" width="29.46" height="8.93" fill="#8fff13"/><rect x="612.27" y="964.98" width="29.46" height="8.93" fill="#00ffa7"/><rect x="612.27" y="956.46" width="29.46" height="8.93" fill="#00ff74"/><rect x="641.33" y="1050.25" width="29.46" height="8.93" fill="#00ff99"/><rect x="641.33" y="1041.72" width="29.46" height="8.93" fill="#00ff8a"/><rect x="641.33" y="1033.19" width="29.46" height="8.93" fill="#00ffd7"/><rect x="641.33" y="1024.67" width="29.46" height="8.93" fill="#74ff31"/><rect x="641.33" y="1016.14" width="29.46" height="8.93" fill="#ffea00"/><rect x="641.33" y="1007.62" width="29.46" height="8.93" fill="#ffdc00"/><rect x="641.33" y="999.09" width="29.46" height="8.93" fill="#acff00"/><rect x="641.33" y="990.56" width="29.46" height="8.93" fill="#cbff00"/><rect x="641.33" y="982.04" width="29.46" height="8.93" fill="#29ff54"/><rect x="641.33" y="973.51" width="29.46" height="8.93" fill="#00ff7c"/><rect x="641.33" y="964.98" width="29.46" height="8.93" fill="#00ff87"/><rect x="641.33" y="956.46" width="29.46" height="8.93" fill="#00ffe0"/><rect x="641.33" y="947.93" width="29.46" height="8.93" fill="#00fde4"/><rect x="641.33" y="922.35" width="29.46" height="8.93" fill="#00edf2"/><rect x="641.33" y="913.83" width="29.46" height="8.93" fill="#00e9f5"/><rect x="670.38" y="1041.72" width="29.46" height="8.93" fill="#00ffc2"/><rect x="670.38" y="1033.19" width="29.46" height="8.93" fill="#00ffd7"/><rect x="670.38" y="1024.67" width="29.46" height="8.93" fill="#52ff46"/><rect x="670.38" y="1016.14" width="29.46" height="8.93" fill="#d5ff00"/><rect x="670.38" y="1007.62" width="29.46" height="8.93" fill="#edfc00"/><rect x="670.38" y="999.09" width="29.46" height="8.93" fill="#d0ff00"/><rect x="670.38" y="990.56" width="29.46" height="8.93" fill="#d9ff00"/><rect x="670.38" y="982.04" width="29.46" height="8.93" fill="#d9ff00"/><rect x="670.38" y="973.51" width="29.46" height="8.93" fill="#65ff3c"/><rect x="670.38" y="964.98" width="29.46" height="8.93" fill="#00ffda"/><rect x="670.38" y="956.46" width="29.46" height="8.93" fill="#00ffaa"/><rect x="699.44" y="1024.67" width="29.46" height="8.93" fill="#bcff00"/><rect x="699.44" y="1016.14" width="29.46" height="8.93" fill="#ffe300"/><rect x="699.44" y="1007.62" width="29.46" height="8.93" fill="#00ff5c"/><rect x="699.44" y="999.09" width="29.46" height="8.93" fill="#00ff5c"/><rect x="699.44" y="990.56" width="29.46" height="8.93" fill="#9bff00"/><rect x="699.44" y="982.04" width="29.46" height="8.93" fill="#8fff13"/><rect x="699.44" y="930.88" width="29.46" height="8.93" fill="#00f5eb"/><rect x="699.44" y="922.35" width="29.46" height="8.93" fill="#00edf2"/></g>
<rect x="379.8" y="905.3" width="348.70" height="162.00" fill="none" stroke="#000" stroke-width="1.4"/>
<g stroke="#000"><line x1="394.33" y1="1067.30" x2="394.33" y2="1074.30" stroke-width="1.5"/><line x1="423.39" y1="1067.30" x2="423.39" y2="1074.30" stroke-width="1.5"/><line x1="452.45" y1="1067.30" x2="452.45" y2="1074.30" stroke-width="1.5"/><line x1="481.50" y1="1067.30" x2="481.50" y2="1074.30" stroke-width="1.5"/><line x1="510.56" y1="1067.30" x2="510.56" y2="1074.30" stroke-width="1.5"/><line x1="539.62" y1="1067.30" x2="539.62" y2="1074.30" stroke-width="1.5"/><line x1="568.68" y1="1067.30" x2="568.68" y2="1074.30" stroke-width="1.5"/><line x1="597.74" y1="1067.30" x2="597.74" y2="1074.30" stroke-width="1.5"/><line x1="626.80" y1="1067.30" x2="626.80" y2="1074.30" stroke-width="1.5"/><line x1="655.85" y1="1067.30" x2="655.85" y2="1074.30" stroke-width="1.5"/><line x1="684.91" y1="1067.30" x2="684.91" y2="1074.30" stroke-width="1.5"/><line x1="713.97" y1="1067.30" x2="713.97" y2="1074.30" stroke-width="1.5"/><line x1="379.80" y1="1036.50" x2="372.80" y2="1036.50" stroke-width="1.5"/><line x1="379.80" y1="985.15" x2="372.80" y2="985.15" stroke-width="1.5"/><line x1="379.80" y1="933.80" x2="372.80" y2="933.80" stroke-width="1.5"/></g>
<text x="388.09" y="1096.80" font-size="20.48" textLength="12.47" lengthAdjust="spacingAndGlyphs" fill="#000">0</text>
<text x="417.15" y="1096.80" font-size="20.48" textLength="12.47" lengthAdjust="spacingAndGlyphs" fill="#000">1</text>
<text x="446.21" y="1096.80" font-size="20.48" textLength="12.47" lengthAdjust="spacingAndGlyphs" fill="#000">2</text>
<text x="475.27" y="1096.80" font-size="20.48" textLength="12.47" lengthAdjust="spacingAndGlyphs" fill="#000">3</text>
<text x="504.33" y="1096.80" font-size="20.48" textLength="12.47" lengthAdjust="spacingAndGlyphs" fill="#000">4</text>
<text x="533.39" y="1096.80" font-size="20.48" textLength="12.47" lengthAdjust="spacingAndGlyphs" fill="#000">5</text>
<text x="562.44" y="1096.80" font-size="20.48" textLength="12.47" lengthAdjust="spacingAndGlyphs" fill="#000">6</text>
<text x="591.50" y="1096.80" font-size="20.48" textLength="12.47" lengthAdjust="spacingAndGlyphs" fill="#000">7</text>
<text x="620.56" y="1096.80" font-size="20.48" textLength="12.47" lengthAdjust="spacingAndGlyphs" fill="#000">8</text>
<text x="649.62" y="1096.80" font-size="20.48" textLength="12.47" lengthAdjust="spacingAndGlyphs" fill="#000">9</text>
<text x="672.44" y="1096.80" font-size="20.48" textLength="24.94" lengthAdjust="spacingAndGlyphs" fill="#000">10</text>
<text x="701.50" y="1096.80" font-size="20.48" textLength="24.94" lengthAdjust="spacingAndGlyphs" fill="#000">11</text>
<text x="279.41" y="941.70" font-size="20.48" textLength="85.99" lengthAdjust="spacingAndGlyphs" fill="#000">10.0 keV</text>
<text x="291.88" y="993.05" font-size="20.48" textLength="73.52" lengthAdjust="spacingAndGlyphs" fill="#000">1.0 keV</text>
<text x="296.29" y="1044.40" font-size="20.48" textLength="69.11" lengthAdjust="spacingAndGlyphs" fill="#000">100 eV</text>
<text x="502.88" y="1123.80" font-size="20.48" textLength="102.54" lengthAdjust="spacingAndGlyphs" fill="#000">Time (sec)</text>
<text x="393.84" y="893.50" font-size="24.51" textLength="320.62" lengthAdjust="spacingAndGlyphs" fill="#000">Reference Ion Spectrogram</text>
<text transform="translate(245.40,987.10) rotate(-90)" x="-57.63" y="0" font-size="20.48" textLength="115.26" lengthAdjust="spacingAndGlyphs" fill="#000">Ions Energy</text>
<text transform="translate(268.20,988.70) rotate(-90)" x="-20.38" y="0" font-size="20.48" textLength="40.76" lengthAdjust="spacingAndGlyphs" fill="#000">[eV]</text>
<linearGradient id="jetg" x1="0" y1="1" x2="0" y2="0"><stop offset="0.0000" stop-color="#000083"/><stop offset="0.0156" stop-color="#000096"/><stop offset="0.0312" stop-color="#0000a9"/><stop offset="0.0469" stop-color="#0000bb"/><stop offset="0.0625" stop-color="#0000cd"/><stop offset="0.0781" stop-color="#0000e0"/><stop offset="0.0938" stop-color="#0000f2"/><stop offset="0.1094" stop-color="#0000ff"/><stop offset="0.1250" stop-color="#0000ff"/><stop offset="0.1406" stop-color="#0008ff"/><stop offset="0.1562" stop-color="#001bff"/><stop offset="0.1719" stop-color="#002dff"/><stop offset="0.1875" stop-color="#003eff"/><stop offset="0.2031" stop-color="#0050ff"/><stop offset="0.2188" stop-color="#0060ff"/><stop offset="0.2344" stop-color="#0071ff"/><stop offset="0.2500" stop-color="#0082ff"/><stop offset="0.2656" stop-color="#0092ff"/><stop offset="0.2812" stop-color="#00a2ff"/><stop offset="0.2969" stop-color="#00b2ff"/><stop offset="0.3125" stop-color="#00c2ff"/><stop offset="0.3281" stop-color="#00d2ff"/><stop offset="0.3438" stop-color="#00e1fc"/><stop offset="0.3594" stop-color="#00f1ee"/><stop offset="0.3750" stop-color="#00ffe0"/><stop offset="0.3906" stop-color="#00ffd3"/><stop offset="0.4062" stop-color="#00ffc6"/><stop offset="0.4219" stop-color="#00ffb8"/><stop offset="0.4375" stop-color="#00ffaa"/><stop offset="0.4531" stop-color="#00ff9c"/><stop offset="0.4688" stop-color="#00ff8e"/><stop offset="0.4844" stop-color="#00ff7f"/><stop offset="0.5000" stop-color="#00ff70"/><stop offset="0.5156" stop-color="#00ff60"/><stop offset="0.5312" stop-color="#3aff4f"/><stop offset="0.5469" stop-color="#65ff3c"/><stop offset="0.5625" stop-color="#83ff25"/><stop offset="0.5781" stop-color="#9bff00"/><stop offset="0.5938" stop-color="#b2ff00"/><stop offset="0.6094" stop-color="#c6ff00"/><stop offset="0.6250" stop-color="#d9ff00"/><stop offset="0.6406" stop-color="#edfc00"/><stop offset="0.6562" stop-color="#ffee00"/><stop offset="0.6719" stop-color="#ffdf00"/><stop offset="0.6875" stop-color="#ffd100"/><stop offset="0.7031" stop-color="#ffc200"/><stop offset="0.7188" stop-color="#ffb300"/><stop offset="0.7344" stop-color="#ffa500"/><stop offset="0.7500" stop-color="#ff9600"/><stop offset="0.7656" stop-color="#ff8700"/><stop offset="0.7812" stop-color="#ff7700"/><stop offset="0.7969" stop-color="#ff6800"/><stop offset="0.8125" stop-color="#ff5900"/><stop offset="0.8281" stop-color="#ff4900"/><stop offset="0.8438" stop-color="#ff3900"/><stop offset="0.8594" stop-color="#ff2800"/><stop offset="0.8750" stop-color="#ff1800"/><stop offset="0.8906" stop-color="#ff0600"/><stop offset="0.9062" stop-color="#ff0000"/><stop offset="0.9219" stop-color="#f90000"/><stop offset="0.9375" stop-color="#e50000"/><stop offset="0.9531" stop-color="#d00000"/><stop offset="0.9688" stop-color="#bb0000"/><stop offset="0.9844" stop-color="#a60000"/><stop offset="1.0000" stop-color="#960000"/></linearGradient>
<rect x="750.5" y="905.3" width="7.80" height="162.40" fill="url(#jetg)" stroke="#000" stroke-width="1.4"/>
<g stroke="#000"><line x1="758.30" y1="1035.22" x2="765.30" y2="1035.22" stroke-width="1.5"/><line x1="758.30" y1="970.26" x2="765.30" y2="970.26" stroke-width="1.5"/><line x1="758.30" y1="905.30" x2="765.30" y2="905.30" stroke-width="1.5"/></g>
<text x="772.54" y="1042.72" font-size="20.48" textLength="24.94" lengthAdjust="spacingAndGlyphs" fill="#000">10</text>
<text x="797.88" y="1035.27" font-size="14.34" textLength="8.73" lengthAdjust="spacingAndGlyphs" fill="#000">4</text>
<text x="772.54" y="977.76" font-size="20.48" textLength="24.94" lengthAdjust="spacingAndGlyphs" fill="#000">10</text>
<text x="797.88" y="970.31" font-size="14.34" textLength="8.73" lengthAdjust="spacingAndGlyphs" fill="#000">6</text>
<text x="772.54" y="912.80" font-size="20.48" textLength="24.94" lengthAdjust="spacingAndGlyphs" fill="#000">10</text>
<text x="797.88" y="905.35" font-size="14.34" textLength="8.73" lengthAdjust="spacingAndGlyphs" fill="#000">8</text>
<text transform="translate(828.30,986.40) rotate(-90)" x="-57.80" y="0" font-size="20.48" textLength="115.59" lengthAdjust="spacingAndGlyphs" fill="#000">Energy Flux</text>
</svg>
</body></html>
